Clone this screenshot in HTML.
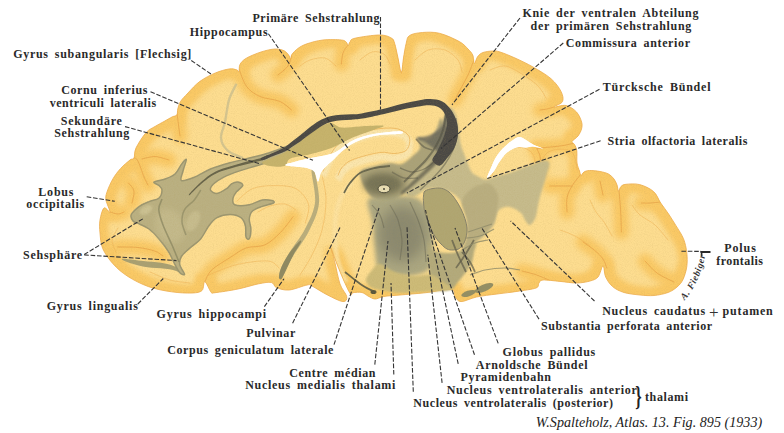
<!DOCTYPE html>
<html><head><meta charset="utf-8"><style>
html,body{margin:0;padding:0;background:#fff;}
body{width:784px;height:433px;overflow:hidden;font-family:"Liberation Serif",serif;}
svg{display:block;font-family:"Liberation Serif",serif;}
.lb{font-family:"Liberation Serif",serif;font-weight:bold;font-size:12px;fill:#2a2a2a;word-spacing:2.5px;}
</style></head><body>
<svg width="784" height="433" viewBox="0 0 784 433">
<defs>
<filter id="b0" filterUnits="userSpaceOnUse" x="0" y="0" width="784" height="433"><feGaussianBlur stdDeviation="0.5"/></filter>
<filter id="b1" filterUnits="userSpaceOnUse" x="0" y="0" width="784" height="433"><feGaussianBlur stdDeviation="0.9"/></filter>
<filter id="b2" filterUnits="userSpaceOnUse" x="0" y="0" width="784" height="433"><feGaussianBlur stdDeviation="3"/></filter>
<filter id="er" filterUnits="userSpaceOnUse" x="0" y="0" width="784" height="433"><feMorphology operator="erode" radius="7.5"/><feGaussianBlur stdDeviation="2.5"/></filter>
<filter id="b2s" filterUnits="userSpaceOnUse" x="0" y="0" width="784" height="433"><feGaussianBlur stdDeviation="2"/></filter>
<filter id="gr" filterUnits="userSpaceOnUse" x="0" y="0" width="784" height="433"><feTurbulence type="fractalNoise" baseFrequency="0.9" numOctaves="2" seed="7" result="n"/><feColorMatrix type="matrix" values="0 0 0 0 0.45  0 0 0 0 0.33  0 0 0 0 0.1  0.9 0.9 0 0 -0.78"/></filter>
<filter id="b3" filterUnits="userSpaceOnUse" x="0" y="0" width="784" height="433"><feGaussianBlur stdDeviation="6"/></filter>
</defs>
<clipPath id="bc"><path d="M100.0,233.0 C99.5,228.2 99.3,224.2 100.0,220.0 C100.7,215.8 102.3,209.3 104.0,208.0 C105.7,206.7 109.7,213.3 110.0,212.0 C110.3,210.7 106.5,203.3 106.0,200.0 C105.5,196.7 105.8,195.6 107.0,192.0 C108.2,188.4 110.7,182.6 113.0,178.7 C115.3,174.8 117.8,171.6 120.6,168.5 C123.4,165.4 127.8,161.8 130.0,160.0 C132.2,158.2 133.0,160.0 134.0,158.0 C135.0,156.0 134.0,152.2 136.0,148.0 C138.0,143.8 142.8,136.3 146.0,132.7 C149.2,129.1 152.0,128.4 155.0,126.5 C158.0,124.6 161.2,123.1 164.0,121.5 C166.8,119.9 169.9,118.1 172.0,117.0 C174.1,115.9 175.8,116.3 176.8,115.0 C177.8,113.7 177.2,111.2 177.8,109.0 C178.4,106.8 178.8,104.2 180.5,101.5 C182.2,98.8 184.8,96.4 188.0,93.0 C191.2,89.6 195.4,84.6 200.0,81.3 C204.6,78.0 210.5,75.0 215.3,73.0 C220.1,71.0 225.4,69.5 229.0,69.0 C232.6,68.5 235.1,69.4 236.8,69.9 C238.5,70.4 238.5,72.7 239.0,71.8 C239.5,70.9 238.8,66.7 240.0,64.5 C241.2,62.3 242.5,60.5 246.0,58.4 C249.5,56.3 256.2,53.6 261.0,52.0 C265.8,50.4 271.2,49.2 275.0,49.0 C278.8,48.8 281.7,49.7 284.0,50.7 C286.3,51.8 287.7,53.9 288.8,55.3 C289.9,56.7 290.2,59.1 290.7,59.0 C291.2,58.9 290.7,56.3 291.9,54.5 C293.1,52.7 295.5,50.2 298.0,48.4 C300.5,46.6 302.8,45.2 307.0,43.8 C311.2,42.4 317.3,40.6 323.0,40.0 C328.7,39.4 337.5,39.6 341.4,40.0 C345.3,40.4 345.4,41.5 346.5,42.5 C347.6,43.5 347.4,46.1 348.0,46.0 C348.6,45.9 348.9,43.3 350.0,42.0 C351.1,40.7 349.8,39.5 354.7,38.3 C359.6,37.1 373.5,35.0 379.6,35.0 C385.7,35.0 388.8,36.6 391.3,38.0 C393.8,39.4 393.5,40.0 394.6,43.3 C395.7,46.6 396.9,53.1 398.0,58.0 C399.1,62.9 400.4,72.5 401.3,72.5 C402.2,72.5 402.7,62.9 403.5,58.0 C404.3,53.1 405.2,47.0 406.2,43.3 C407.2,39.5 406.9,37.3 409.6,35.5 C412.3,33.7 417.4,32.9 422.4,32.5 C427.4,32.1 433.3,31.8 439.5,33.3 C445.7,34.8 454.6,39.0 459.4,41.6 C464.1,44.2 465.8,46.8 468.0,49.0 C470.2,51.2 471.6,52.6 472.7,55.0 C473.8,57.4 473.6,63.2 474.4,63.5 C475.2,63.8 476.3,58.4 477.7,56.6 C479.1,54.8 480.5,53.4 483.0,52.5 C485.5,51.6 489.9,51.1 492.7,51.0 C495.5,50.9 496.3,50.8 500.0,52.0 C503.7,53.2 509.5,55.5 515.0,58.0 C520.5,60.5 527.0,63.5 533.0,67.0 C539.0,70.5 546.3,74.6 551.0,78.7 C555.7,82.8 559.1,87.6 561.0,91.4 C562.9,95.2 563.7,99.0 562.5,101.6 C561.3,104.2 553.4,106.3 554.0,107.0 C554.6,107.7 562.2,104.7 566.0,105.5 C569.8,106.3 573.9,109.2 576.5,112.0 C579.1,114.8 580.8,119.2 581.6,122.0 C582.4,124.8 582.1,126.7 581.5,129.0 C580.9,131.3 579.6,133.9 578.0,136.0 C576.4,138.1 572.6,140.1 572.0,141.5 C571.4,142.9 573.7,142.9 574.5,144.5 C575.3,146.1 576.4,147.9 576.8,151.0 C577.2,154.1 576.5,159.7 577.0,163.0 C577.5,166.3 578.8,168.9 579.5,171.0 C580.2,173.1 580.2,175.3 581.0,175.5 C581.8,175.7 582.6,172.8 584.0,172.0 C585.4,171.2 586.8,170.6 589.5,170.5 C592.2,170.4 596.8,170.9 600.0,171.5 C603.2,172.1 606.2,172.8 608.5,174.0 C610.8,175.2 612.6,177.2 614.0,179.0 C615.4,180.8 616.2,183.0 617.0,185.0 C617.8,187.0 617.8,190.8 618.5,191.0 C619.2,191.2 619.8,187.6 621.0,186.5 C622.2,185.4 622.9,184.6 626.0,184.3 C629.1,184.0 635.1,183.4 639.7,184.6 C644.3,185.8 650.1,188.5 653.6,191.6 C657.1,194.7 658.2,199.3 660.7,203.0 C663.2,206.7 666.1,210.2 668.6,214.0 C671.1,217.8 673.5,221.6 676.0,225.7 C678.5,229.8 681.7,234.3 683.5,238.8 C685.3,243.3 686.2,248.1 686.8,252.7 C687.3,257.3 687.4,262.0 686.8,266.5 C686.2,271.0 684.6,276.1 683.0,279.5 C681.4,282.9 679.5,284.8 677.0,287.0 C674.5,289.2 671.8,291.1 668.0,292.5 C664.2,293.9 658.7,295.1 654.0,295.5 C649.3,295.9 645.0,295.5 640.0,295.0 C635.0,294.5 628.6,293.9 624.0,292.5 C619.4,291.1 615.5,289.1 612.5,286.5 C609.5,283.9 607.3,280.4 605.7,277.0 C604.1,273.6 604.3,266.0 603.0,266.0 C601.7,266.0 600.2,274.5 598.0,277.0 C595.8,279.5 593.5,280.0 590.0,281.0 C586.5,282.0 582.0,282.9 577.0,283.0 C572.0,283.1 565.7,281.9 560.0,281.4 C554.3,280.9 546.5,279.7 543.0,280.0 C539.5,280.3 540.2,281.7 539.0,283.0 C537.8,284.3 539.7,286.6 536.0,288.0 C532.3,289.4 523.5,290.4 517.0,291.4 C510.5,292.4 503.8,293.1 497.0,294.0 C490.2,294.9 482.5,295.7 476.5,297.0 C470.5,298.3 464.6,301.7 461.0,301.6 C457.4,301.5 456.7,298.5 455.0,296.5 C453.3,294.5 455.9,290.1 451.0,289.5 C446.1,288.9 434.0,291.8 425.5,292.7 C417.0,293.6 407.0,294.4 400.0,295.0 C393.0,295.6 387.9,295.8 383.7,296.5 C379.5,297.2 377.6,299.1 375.0,299.0 C372.4,298.9 370.2,297.1 368.0,296.0 C365.8,294.9 364.5,293.1 362.0,292.5 C359.5,291.9 354.9,292.4 353.0,292.7 C351.1,292.9 352.2,296.3 350.5,294.0 C348.8,291.7 346.0,285.5 343.0,278.7 C340.0,271.9 334.5,257.9 332.6,253.0 C330.7,248.1 331.0,247.3 331.4,249.0 C331.8,250.7 333.6,257.2 335.0,263.0 C336.4,268.8 338.1,278.4 340.0,284.0 C341.9,289.6 346.2,293.6 346.7,296.5 C347.2,299.4 346.2,301.9 343.0,301.6 C339.8,301.4 332.7,297.6 327.5,295.0 C322.3,292.4 315.4,287.7 312.0,286.0 C308.6,284.3 310.8,284.3 307.0,285.0 C303.2,285.7 294.1,289.6 289.0,290.0 C283.9,290.4 279.4,288.9 276.5,287.6 C273.6,286.4 274.4,283.1 271.4,282.5 C268.4,281.9 264.3,282.7 258.7,283.8 C253.1,284.9 245.3,287.5 238.0,289.0 C230.7,290.5 219.5,292.2 215.0,292.7 C210.5,293.2 212.7,293.9 211.0,292.0 C209.3,290.1 206.3,281.9 204.8,281.6 C203.3,281.4 204.1,288.6 202.0,290.5 C199.9,292.4 197.1,292.8 192.0,293.0 C186.9,293.2 178.8,292.9 171.6,291.8 C164.4,290.8 156.0,289.2 148.7,286.7 C141.4,284.1 133.9,280.3 128.0,276.5 C122.0,272.7 117.2,268.5 113.0,263.8 C108.8,259.1 104.9,253.6 102.7,248.5 C100.5,243.4 100.5,237.8 100.0,233.0Z"/></clipPath>
<path d="M100.0,233.0 C99.5,228.2 99.3,224.2 100.0,220.0 C100.7,215.8 102.3,209.3 104.0,208.0 C105.7,206.7 109.7,213.3 110.0,212.0 C110.3,210.7 106.5,203.3 106.0,200.0 C105.5,196.7 105.8,195.6 107.0,192.0 C108.2,188.4 110.7,182.6 113.0,178.7 C115.3,174.8 117.8,171.6 120.6,168.5 C123.4,165.4 127.8,161.8 130.0,160.0 C132.2,158.2 133.0,160.0 134.0,158.0 C135.0,156.0 134.0,152.2 136.0,148.0 C138.0,143.8 142.8,136.3 146.0,132.7 C149.2,129.1 152.0,128.4 155.0,126.5 C158.0,124.6 161.2,123.1 164.0,121.5 C166.8,119.9 169.9,118.1 172.0,117.0 C174.1,115.9 175.8,116.3 176.8,115.0 C177.8,113.7 177.2,111.2 177.8,109.0 C178.4,106.8 178.8,104.2 180.5,101.5 C182.2,98.8 184.8,96.4 188.0,93.0 C191.2,89.6 195.4,84.6 200.0,81.3 C204.6,78.0 210.5,75.0 215.3,73.0 C220.1,71.0 225.4,69.5 229.0,69.0 C232.6,68.5 235.1,69.4 236.8,69.9 C238.5,70.4 238.5,72.7 239.0,71.8 C239.5,70.9 238.8,66.7 240.0,64.5 C241.2,62.3 242.5,60.5 246.0,58.4 C249.5,56.3 256.2,53.6 261.0,52.0 C265.8,50.4 271.2,49.2 275.0,49.0 C278.8,48.8 281.7,49.7 284.0,50.7 C286.3,51.8 287.7,53.9 288.8,55.3 C289.9,56.7 290.2,59.1 290.7,59.0 C291.2,58.9 290.7,56.3 291.9,54.5 C293.1,52.7 295.5,50.2 298.0,48.4 C300.5,46.6 302.8,45.2 307.0,43.8 C311.2,42.4 317.3,40.6 323.0,40.0 C328.7,39.4 337.5,39.6 341.4,40.0 C345.3,40.4 345.4,41.5 346.5,42.5 C347.6,43.5 347.4,46.1 348.0,46.0 C348.6,45.9 348.9,43.3 350.0,42.0 C351.1,40.7 349.8,39.5 354.7,38.3 C359.6,37.1 373.5,35.0 379.6,35.0 C385.7,35.0 388.8,36.6 391.3,38.0 C393.8,39.4 393.5,40.0 394.6,43.3 C395.7,46.6 396.9,53.1 398.0,58.0 C399.1,62.9 400.4,72.5 401.3,72.5 C402.2,72.5 402.7,62.9 403.5,58.0 C404.3,53.1 405.2,47.0 406.2,43.3 C407.2,39.5 406.9,37.3 409.6,35.5 C412.3,33.7 417.4,32.9 422.4,32.5 C427.4,32.1 433.3,31.8 439.5,33.3 C445.7,34.8 454.6,39.0 459.4,41.6 C464.1,44.2 465.8,46.8 468.0,49.0 C470.2,51.2 471.6,52.6 472.7,55.0 C473.8,57.4 473.6,63.2 474.4,63.5 C475.2,63.8 476.3,58.4 477.7,56.6 C479.1,54.8 480.5,53.4 483.0,52.5 C485.5,51.6 489.9,51.1 492.7,51.0 C495.5,50.9 496.3,50.8 500.0,52.0 C503.7,53.2 509.5,55.5 515.0,58.0 C520.5,60.5 527.0,63.5 533.0,67.0 C539.0,70.5 546.3,74.6 551.0,78.7 C555.7,82.8 559.1,87.6 561.0,91.4 C562.9,95.2 563.7,99.0 562.5,101.6 C561.3,104.2 553.4,106.3 554.0,107.0 C554.6,107.7 562.2,104.7 566.0,105.5 C569.8,106.3 573.9,109.2 576.5,112.0 C579.1,114.8 580.8,119.2 581.6,122.0 C582.4,124.8 582.1,126.7 581.5,129.0 C580.9,131.3 579.6,133.9 578.0,136.0 C576.4,138.1 572.6,140.1 572.0,141.5 C571.4,142.9 573.7,142.9 574.5,144.5 C575.3,146.1 576.4,147.9 576.8,151.0 C577.2,154.1 576.5,159.7 577.0,163.0 C577.5,166.3 578.8,168.9 579.5,171.0 C580.2,173.1 580.2,175.3 581.0,175.5 C581.8,175.7 582.6,172.8 584.0,172.0 C585.4,171.2 586.8,170.6 589.5,170.5 C592.2,170.4 596.8,170.9 600.0,171.5 C603.2,172.1 606.2,172.8 608.5,174.0 C610.8,175.2 612.6,177.2 614.0,179.0 C615.4,180.8 616.2,183.0 617.0,185.0 C617.8,187.0 617.8,190.8 618.5,191.0 C619.2,191.2 619.8,187.6 621.0,186.5 C622.2,185.4 622.9,184.6 626.0,184.3 C629.1,184.0 635.1,183.4 639.7,184.6 C644.3,185.8 650.1,188.5 653.6,191.6 C657.1,194.7 658.2,199.3 660.7,203.0 C663.2,206.7 666.1,210.2 668.6,214.0 C671.1,217.8 673.5,221.6 676.0,225.7 C678.5,229.8 681.7,234.3 683.5,238.8 C685.3,243.3 686.2,248.1 686.8,252.7 C687.3,257.3 687.4,262.0 686.8,266.5 C686.2,271.0 684.6,276.1 683.0,279.5 C681.4,282.9 679.5,284.8 677.0,287.0 C674.5,289.2 671.8,291.1 668.0,292.5 C664.2,293.9 658.7,295.1 654.0,295.5 C649.3,295.9 645.0,295.5 640.0,295.0 C635.0,294.5 628.6,293.9 624.0,292.5 C619.4,291.1 615.5,289.1 612.5,286.5 C609.5,283.9 607.3,280.4 605.7,277.0 C604.1,273.6 604.3,266.0 603.0,266.0 C601.7,266.0 600.2,274.5 598.0,277.0 C595.8,279.5 593.5,280.0 590.0,281.0 C586.5,282.0 582.0,282.9 577.0,283.0 C572.0,283.1 565.7,281.9 560.0,281.4 C554.3,280.9 546.5,279.7 543.0,280.0 C539.5,280.3 540.2,281.7 539.0,283.0 C537.8,284.3 539.7,286.6 536.0,288.0 C532.3,289.4 523.5,290.4 517.0,291.4 C510.5,292.4 503.8,293.1 497.0,294.0 C490.2,294.9 482.5,295.7 476.5,297.0 C470.5,298.3 464.6,301.7 461.0,301.6 C457.4,301.5 456.7,298.5 455.0,296.5 C453.3,294.5 455.9,290.1 451.0,289.5 C446.1,288.9 434.0,291.8 425.5,292.7 C417.0,293.6 407.0,294.4 400.0,295.0 C393.0,295.6 387.9,295.8 383.7,296.5 C379.5,297.2 377.6,299.1 375.0,299.0 C372.4,298.9 370.2,297.1 368.0,296.0 C365.8,294.9 364.5,293.1 362.0,292.5 C359.5,291.9 354.9,292.4 353.0,292.7 C351.1,292.9 352.2,296.3 350.5,294.0 C348.8,291.7 346.0,285.5 343.0,278.7 C340.0,271.9 334.5,257.9 332.6,253.0 C330.7,248.1 331.0,247.3 331.4,249.0 C331.8,250.7 333.6,257.2 335.0,263.0 C336.4,268.8 338.1,278.4 340.0,284.0 C341.9,289.6 346.2,293.6 346.7,296.5 C347.2,299.4 346.2,301.9 343.0,301.6 C339.8,301.4 332.7,297.6 327.5,295.0 C322.3,292.4 315.4,287.7 312.0,286.0 C308.6,284.3 310.8,284.3 307.0,285.0 C303.2,285.7 294.1,289.6 289.0,290.0 C283.9,290.4 279.4,288.9 276.5,287.6 C273.6,286.4 274.4,283.1 271.4,282.5 C268.4,281.9 264.3,282.7 258.7,283.8 C253.1,284.9 245.3,287.5 238.0,289.0 C230.7,290.5 219.5,292.2 215.0,292.7 C210.5,293.2 212.7,293.9 211.0,292.0 C209.3,290.1 206.3,281.9 204.8,281.6 C203.3,281.4 204.1,288.6 202.0,290.5 C199.9,292.4 197.1,292.8 192.0,293.0 C186.9,293.2 178.8,292.9 171.6,291.8 C164.4,290.8 156.0,289.2 148.7,286.7 C141.4,284.1 133.9,280.3 128.0,276.5 C122.0,272.7 117.2,268.5 113.0,263.8 C108.8,259.1 104.9,253.6 102.7,248.5 C100.5,243.4 100.5,237.8 100.0,233.0Z" fill="#fac965"/>
<g clip-path="url(#bc)">
<path d="M100.0,233.0 C99.5,228.2 99.3,224.2 100.0,220.0 C100.7,215.8 102.3,209.3 104.0,208.0 C105.7,206.7 109.7,213.3 110.0,212.0 C110.3,210.7 106.5,203.3 106.0,200.0 C105.5,196.7 105.8,195.6 107.0,192.0 C108.2,188.4 110.7,182.6 113.0,178.7 C115.3,174.8 117.8,171.6 120.6,168.5 C123.4,165.4 127.8,161.8 130.0,160.0 C132.2,158.2 133.0,160.0 134.0,158.0 C135.0,156.0 134.0,152.2 136.0,148.0 C138.0,143.8 142.8,136.3 146.0,132.7 C149.2,129.1 152.0,128.4 155.0,126.5 C158.0,124.6 161.2,123.1 164.0,121.5 C166.8,119.9 169.9,118.1 172.0,117.0 C174.1,115.9 175.8,116.3 176.8,115.0 C177.8,113.7 177.2,111.2 177.8,109.0 C178.4,106.8 178.8,104.2 180.5,101.5 C182.2,98.8 184.8,96.4 188.0,93.0 C191.2,89.6 195.4,84.6 200.0,81.3 C204.6,78.0 210.5,75.0 215.3,73.0 C220.1,71.0 225.4,69.5 229.0,69.0 C232.6,68.5 235.1,69.4 236.8,69.9 C238.5,70.4 238.5,72.7 239.0,71.8 C239.5,70.9 238.8,66.7 240.0,64.5 C241.2,62.3 242.5,60.5 246.0,58.4 C249.5,56.3 256.2,53.6 261.0,52.0 C265.8,50.4 271.2,49.2 275.0,49.0 C278.8,48.8 281.7,49.7 284.0,50.7 C286.3,51.8 287.7,53.9 288.8,55.3 C289.9,56.7 290.2,59.1 290.7,59.0 C291.2,58.9 290.7,56.3 291.9,54.5 C293.1,52.7 295.5,50.2 298.0,48.4 C300.5,46.6 302.8,45.2 307.0,43.8 C311.2,42.4 317.3,40.6 323.0,40.0 C328.7,39.4 337.5,39.6 341.4,40.0 C345.3,40.4 345.4,41.5 346.5,42.5 C347.6,43.5 347.4,46.1 348.0,46.0 C348.6,45.9 348.9,43.3 350.0,42.0 C351.1,40.7 349.8,39.5 354.7,38.3 C359.6,37.1 373.5,35.0 379.6,35.0 C385.7,35.0 388.8,36.6 391.3,38.0 C393.8,39.4 393.5,40.0 394.6,43.3 C395.7,46.6 396.9,53.1 398.0,58.0 C399.1,62.9 400.4,72.5 401.3,72.5 C402.2,72.5 402.7,62.9 403.5,58.0 C404.3,53.1 405.2,47.0 406.2,43.3 C407.2,39.5 406.9,37.3 409.6,35.5 C412.3,33.7 417.4,32.9 422.4,32.5 C427.4,32.1 433.3,31.8 439.5,33.3 C445.7,34.8 454.6,39.0 459.4,41.6 C464.1,44.2 465.8,46.8 468.0,49.0 C470.2,51.2 471.6,52.6 472.7,55.0 C473.8,57.4 473.6,63.2 474.4,63.5 C475.2,63.8 476.3,58.4 477.7,56.6 C479.1,54.8 480.5,53.4 483.0,52.5 C485.5,51.6 489.9,51.1 492.7,51.0 C495.5,50.9 496.3,50.8 500.0,52.0 C503.7,53.2 509.5,55.5 515.0,58.0 C520.5,60.5 527.0,63.5 533.0,67.0 C539.0,70.5 546.3,74.6 551.0,78.7 C555.7,82.8 559.1,87.6 561.0,91.4 C562.9,95.2 563.7,99.0 562.5,101.6 C561.3,104.2 553.4,106.3 554.0,107.0 C554.6,107.7 562.2,104.7 566.0,105.5 C569.8,106.3 573.9,109.2 576.5,112.0 C579.1,114.8 580.8,119.2 581.6,122.0 C582.4,124.8 582.1,126.7 581.5,129.0 C580.9,131.3 579.6,133.9 578.0,136.0 C576.4,138.1 572.6,140.1 572.0,141.5 C571.4,142.9 573.7,142.9 574.5,144.5 C575.3,146.1 576.4,147.9 576.8,151.0 C577.2,154.1 576.5,159.7 577.0,163.0 C577.5,166.3 578.8,168.9 579.5,171.0 C580.2,173.1 580.2,175.3 581.0,175.5 C581.8,175.7 582.6,172.8 584.0,172.0 C585.4,171.2 586.8,170.6 589.5,170.5 C592.2,170.4 596.8,170.9 600.0,171.5 C603.2,172.1 606.2,172.8 608.5,174.0 C610.8,175.2 612.6,177.2 614.0,179.0 C615.4,180.8 616.2,183.0 617.0,185.0 C617.8,187.0 617.8,190.8 618.5,191.0 C619.2,191.2 619.8,187.6 621.0,186.5 C622.2,185.4 622.9,184.6 626.0,184.3 C629.1,184.0 635.1,183.4 639.7,184.6 C644.3,185.8 650.1,188.5 653.6,191.6 C657.1,194.7 658.2,199.3 660.7,203.0 C663.2,206.7 666.1,210.2 668.6,214.0 C671.1,217.8 673.5,221.6 676.0,225.7 C678.5,229.8 681.7,234.3 683.5,238.8 C685.3,243.3 686.2,248.1 686.8,252.7 C687.3,257.3 687.4,262.0 686.8,266.5 C686.2,271.0 684.6,276.1 683.0,279.5 C681.4,282.9 679.5,284.8 677.0,287.0 C674.5,289.2 671.8,291.1 668.0,292.5 C664.2,293.9 658.7,295.1 654.0,295.5 C649.3,295.9 645.0,295.5 640.0,295.0 C635.0,294.5 628.6,293.9 624.0,292.5 C619.4,291.1 615.5,289.1 612.5,286.5 C609.5,283.9 607.3,280.4 605.7,277.0 C604.1,273.6 604.3,266.0 603.0,266.0 C601.7,266.0 600.2,274.5 598.0,277.0 C595.8,279.5 593.5,280.0 590.0,281.0 C586.5,282.0 582.0,282.9 577.0,283.0 C572.0,283.1 565.7,281.9 560.0,281.4 C554.3,280.9 546.5,279.7 543.0,280.0 C539.5,280.3 540.2,281.7 539.0,283.0 C537.8,284.3 539.7,286.6 536.0,288.0 C532.3,289.4 523.5,290.4 517.0,291.4 C510.5,292.4 503.8,293.1 497.0,294.0 C490.2,294.9 482.5,295.7 476.5,297.0 C470.5,298.3 464.6,301.7 461.0,301.6 C457.4,301.5 456.7,298.5 455.0,296.5 C453.3,294.5 455.9,290.1 451.0,289.5 C446.1,288.9 434.0,291.8 425.5,292.7 C417.0,293.6 407.0,294.4 400.0,295.0 C393.0,295.6 387.9,295.8 383.7,296.5 C379.5,297.2 377.6,299.1 375.0,299.0 C372.4,298.9 370.2,297.1 368.0,296.0 C365.8,294.9 364.5,293.1 362.0,292.5 C359.5,291.9 354.9,292.4 353.0,292.7 C351.1,292.9 352.2,296.3 350.5,294.0 C348.8,291.7 346.0,285.5 343.0,278.7 C340.0,271.9 334.5,257.9 332.6,253.0 C330.7,248.1 331.0,247.3 331.4,249.0 C331.8,250.7 333.6,257.2 335.0,263.0 C336.4,268.8 338.1,278.4 340.0,284.0 C341.9,289.6 346.2,293.6 346.7,296.5 C347.2,299.4 346.2,301.9 343.0,301.6 C339.8,301.4 332.7,297.6 327.5,295.0 C322.3,292.4 315.4,287.7 312.0,286.0 C308.6,284.3 310.8,284.3 307.0,285.0 C303.2,285.7 294.1,289.6 289.0,290.0 C283.9,290.4 279.4,288.9 276.5,287.6 C273.6,286.4 274.4,283.1 271.4,282.5 C268.4,281.9 264.3,282.7 258.7,283.8 C253.1,284.9 245.3,287.5 238.0,289.0 C230.7,290.5 219.5,292.2 215.0,292.7 C210.5,293.2 212.7,293.9 211.0,292.0 C209.3,290.1 206.3,281.9 204.8,281.6 C203.3,281.4 204.1,288.6 202.0,290.5 C199.9,292.4 197.1,292.8 192.0,293.0 C186.9,293.2 178.8,292.9 171.6,291.8 C164.4,290.8 156.0,289.2 148.7,286.7 C141.4,284.1 133.9,280.3 128.0,276.5 C122.0,272.7 117.2,268.5 113.0,263.8 C108.8,259.1 104.9,253.6 102.7,248.5 C100.5,243.4 100.5,237.8 100.0,233.0Z" fill="#fddd90" filter="url(#er)"/>
<path d="M177.0,113.0 C177.2,115.0 178.0,121.2 178.5,125.0 C179.0,128.8 179.8,134.2 180.0,136.0" fill="none" stroke="#fac965" stroke-width="15" stroke-linecap="round" filter="url(#b2)"/>
<path d="M239.0,69.0 C240.3,71.9 243.1,81.9 246.6,86.5 C250.1,91.1 254.4,94.0 260.0,96.5 C265.6,99.0 274.8,99.2 280.0,101.5 C285.2,103.8 289.6,108.6 291.5,110.0" fill="none" stroke="#fac965" stroke-width="15" stroke-linecap="round" filter="url(#b2)"/>
<path d="M291.5,56.0 C290.9,57.7 290.2,62.8 288.0,66.0 C285.8,69.2 279.7,73.5 278.0,75.0" fill="none" stroke="#fac965" stroke-width="15" stroke-linecap="round" filter="url(#b2)"/>
<path d="M348.0,45.0 C347.2,46.3 344.1,49.8 343.0,53.0 C341.9,56.2 341.7,62.2 341.4,64.0" fill="none" stroke="#fac965" stroke-width="15" stroke-linecap="round" filter="url(#b2)"/>
<path d="M398.0,40.0 C398.3,43.0 399.4,52.5 400.0,58.0 C400.6,63.5 401.2,70.5 401.5,73.0" fill="none" stroke="#fac965" stroke-width="15" stroke-linecap="round" filter="url(#b2)"/>
<path d="M474.0,60.0 C473.0,62.5 470.3,70.0 468.0,75.0 C465.7,80.0 462.2,85.8 460.0,90.0 C457.8,94.2 455.8,98.3 455.0,100.0" fill="none" stroke="#fac965" stroke-width="15" stroke-linecap="round" filter="url(#b2)"/>
<path d="M554.0,107.0 C552.8,107.3 549.3,108.5 547.0,109.0 C544.7,109.5 541.2,109.8 540.0,110.0" fill="none" stroke="#fac965" stroke-width="15" stroke-linecap="round" filter="url(#b2)"/>
<path d="M619.0,190.0 C619.3,193.7 620.3,205.0 620.7,212.0 C621.1,219.0 621.3,228.7 621.4,232.0" fill="none" stroke="#fac965" stroke-width="15" stroke-linecap="round" filter="url(#b2)"/>
<path d="M581.0,174.0 C579.5,176.0 574.3,182.0 572.0,186.0 C569.7,190.0 567.8,193.7 567.0,198.0 C566.2,202.3 567.0,209.7 567.0,212.0" fill="none" stroke="#fac965" stroke-width="15" stroke-linecap="round" filter="url(#b2)"/>
<path d="M572.0,186.0 C570.0,186.0 563.7,186.0 560.0,186.0 C556.3,186.0 551.4,186.0 549.7,186.0" fill="none" stroke="#fac965" stroke-width="15" stroke-linecap="round" filter="url(#b2)"/>
<path d="M600.0,181.0 L603.0,195.0" fill="none" stroke="#fac965" stroke-width="15" stroke-linecap="round" filter="url(#b2)"/>
<path d="M660.5,202.0 C658.8,202.2 653.2,202.8 650.0,203.0 C646.8,203.2 642.9,203.0 641.5,203.0" fill="none" stroke="#fac965" stroke-width="15" stroke-linecap="round" filter="url(#b2)"/>
<path d="M583.0,242.0 C585.0,243.4 591.4,247.6 594.7,250.4 C598.0,253.2 601.0,256.1 603.0,259.0 C605.0,261.9 606.2,266.5 606.8,268.0" fill="none" stroke="#fac965" stroke-width="15" stroke-linecap="round" filter="url(#b2)"/>
<path d="M645.0,261.0 C647.0,263.0 652.2,269.5 657.0,273.0 C661.8,276.5 671.2,280.5 674.0,282.0" fill="none" stroke="#fac965" stroke-width="15" stroke-linecap="round" filter="url(#b2)"/>
<path d="M522.0,271.0 C524.3,271.6 531.3,273.2 535.8,274.7 C540.3,276.2 546.8,279.1 549.0,280.0" fill="none" stroke="#fac965" stroke-width="15" stroke-linecap="round" filter="url(#b2)"/>
<path d="M132.0,158.0 C132.9,158.3 135.4,156.8 137.4,160.0 C139.4,163.2 142.2,172.8 144.0,177.0 C145.8,181.2 147.3,183.7 148.0,185.0" fill="none" stroke="#fac965" stroke-width="15" stroke-linecap="round" filter="url(#b2)"/>
<path d="M128.4,183.0 C129.3,184.3 133.4,187.7 134.0,191.0 C134.6,194.3 132.3,201.0 132.0,203.0" fill="none" stroke="#fac965" stroke-width="15" stroke-linecap="round" filter="url(#b2)"/>
<path d="M110.0,212.0 C111.3,212.3 115.7,214.0 118.0,214.0 C120.3,214.0 123.0,212.3 124.0,212.0" fill="none" stroke="#fac965" stroke-width="15" stroke-linecap="round" filter="url(#b2)"/>
<path d="M117.7,247.0 C121.1,247.1 131.8,246.8 138.0,247.5 C144.2,248.2 150.4,249.6 154.6,251.0 C158.8,252.4 161.6,255.2 163.0,256.0" fill="none" stroke="#fac965" stroke-width="15" stroke-linecap="round" filter="url(#b2)"/>
<path d="M142.0,159.0 C144.2,158.6 150.5,156.3 155.0,156.5 C159.5,156.7 166.7,159.4 169.0,160.0" fill="none" stroke="#fac965" stroke-width="15" stroke-linecap="round" filter="url(#b2)"/>
<path d="M577.0,142.5 C575.2,142.9 569.5,144.3 566.0,145.0 C562.5,145.7 559.5,146.1 556.0,146.5 C552.5,146.9 548.2,147.2 545.0,147.5 C541.8,147.8 538.3,148.3 537.0,148.5" fill="none" stroke="#fac965" stroke-width="15" stroke-linecap="round" filter="url(#b2)"/>
<path d="M204.8,281.6 C206.0,279.6 207.5,273.9 211.8,269.8 C216.1,265.8 224.8,260.9 230.5,257.3 C236.2,253.7 240.3,250.1 246.0,248.0 C251.7,245.9 259.1,247.5 264.9,244.9 C270.6,242.3 275.8,237.1 280.5,232.4 C285.2,227.7 290.9,219.4 293.0,216.8" fill="none" stroke="#fac965" stroke-width="15" stroke-linecap="round" filter="url(#b2)"/>
<path d="M537.0,149.0 C537.5,150.2 539.4,153.3 540.0,156.0 C540.6,158.7 540.7,161.8 540.5,165.0 C540.3,168.2 539.2,173.3 539.0,175.0" fill="none" stroke="#fac965" stroke-width="15" stroke-linecap="round" filter="url(#b2)"/>
<path d="M177.0,113.0 C177.2,115.0 178.0,121.2 178.5,125.0 C179.0,128.8 179.8,134.2 180.0,136.0" fill="none" stroke="#eaa94c" stroke-width="1" stroke-linecap="round" opacity="0.9"/>
<path d="M239.0,69.0 C240.3,71.9 243.1,81.9 246.6,86.5 C250.1,91.1 254.4,94.0 260.0,96.5 C265.6,99.0 274.8,99.2 280.0,101.5 C285.2,103.8 289.6,108.6 291.5,110.0" fill="none" stroke="#eaa94c" stroke-width="1" stroke-linecap="round" opacity="0.9"/>
<path d="M291.5,56.0 C290.9,57.7 290.2,62.8 288.0,66.0 C285.8,69.2 279.7,73.5 278.0,75.0" fill="none" stroke="#eaa94c" stroke-width="1" stroke-linecap="round" opacity="0.9"/>
<path d="M348.0,45.0 C347.2,46.3 344.1,49.8 343.0,53.0 C341.9,56.2 341.7,62.2 341.4,64.0" fill="none" stroke="#eaa94c" stroke-width="1" stroke-linecap="round" opacity="0.9"/>
<path d="M398.0,40.0 C398.3,43.0 399.4,52.5 400.0,58.0 C400.6,63.5 401.2,70.5 401.5,73.0" fill="none" stroke="#eaa94c" stroke-width="1" stroke-linecap="round" opacity="0.9"/>
<path d="M474.0,60.0 C473.0,62.5 470.3,70.0 468.0,75.0 C465.7,80.0 462.2,85.8 460.0,90.0 C457.8,94.2 455.8,98.3 455.0,100.0" fill="none" stroke="#eaa94c" stroke-width="1" stroke-linecap="round" opacity="0.9"/>
<path d="M554.0,107.0 C552.8,107.3 549.3,108.5 547.0,109.0 C544.7,109.5 541.2,109.8 540.0,110.0" fill="none" stroke="#eaa94c" stroke-width="1" stroke-linecap="round" opacity="0.9"/>
<path d="M619.0,190.0 C619.3,193.7 620.3,205.0 620.7,212.0 C621.1,219.0 621.3,228.7 621.4,232.0" fill="none" stroke="#eaa94c" stroke-width="1" stroke-linecap="round" opacity="0.9"/>
<path d="M581.0,174.0 C579.5,176.0 574.3,182.0 572.0,186.0 C569.7,190.0 567.8,193.7 567.0,198.0 C566.2,202.3 567.0,209.7 567.0,212.0" fill="none" stroke="#eaa94c" stroke-width="1" stroke-linecap="round" opacity="0.9"/>
<path d="M572.0,186.0 C570.0,186.0 563.7,186.0 560.0,186.0 C556.3,186.0 551.4,186.0 549.7,186.0" fill="none" stroke="#eaa94c" stroke-width="1" stroke-linecap="round" opacity="0.9"/>
<path d="M600.0,181.0 L603.0,195.0" fill="none" stroke="#eaa94c" stroke-width="1" stroke-linecap="round" opacity="0.9"/>
<path d="M660.5,202.0 C658.8,202.2 653.2,202.8 650.0,203.0 C646.8,203.2 642.9,203.0 641.5,203.0" fill="none" stroke="#eaa94c" stroke-width="1" stroke-linecap="round" opacity="0.9"/>
<path d="M583.0,242.0 C585.0,243.4 591.4,247.6 594.7,250.4 C598.0,253.2 601.0,256.1 603.0,259.0 C605.0,261.9 606.2,266.5 606.8,268.0" fill="none" stroke="#eaa94c" stroke-width="1" stroke-linecap="round" opacity="0.9"/>
<path d="M645.0,261.0 C647.0,263.0 652.2,269.5 657.0,273.0 C661.8,276.5 671.2,280.5 674.0,282.0" fill="none" stroke="#eaa94c" stroke-width="1" stroke-linecap="round" opacity="0.9"/>
<path d="M522.0,271.0 C524.3,271.6 531.3,273.2 535.8,274.7 C540.3,276.2 546.8,279.1 549.0,280.0" fill="none" stroke="#eaa94c" stroke-width="1" stroke-linecap="round" opacity="0.9"/>
<path d="M132.0,158.0 C132.9,158.3 135.4,156.8 137.4,160.0 C139.4,163.2 142.2,172.8 144.0,177.0 C145.8,181.2 147.3,183.7 148.0,185.0" fill="none" stroke="#eaa94c" stroke-width="1" stroke-linecap="round" opacity="0.9"/>
<path d="M128.4,183.0 C129.3,184.3 133.4,187.7 134.0,191.0 C134.6,194.3 132.3,201.0 132.0,203.0" fill="none" stroke="#eaa94c" stroke-width="1" stroke-linecap="round" opacity="0.9"/>
<path d="M110.0,212.0 C111.3,212.3 115.7,214.0 118.0,214.0 C120.3,214.0 123.0,212.3 124.0,212.0" fill="none" stroke="#eaa94c" stroke-width="1" stroke-linecap="round" opacity="0.9"/>
<path d="M117.7,247.0 C121.1,247.1 131.8,246.8 138.0,247.5 C144.2,248.2 150.4,249.6 154.6,251.0 C158.8,252.4 161.6,255.2 163.0,256.0" fill="none" stroke="#eaa94c" stroke-width="1" stroke-linecap="round" opacity="0.9"/>
<path d="M142.0,159.0 C144.2,158.6 150.5,156.3 155.0,156.5 C159.5,156.7 166.7,159.4 169.0,160.0" fill="none" stroke="#eaa94c" stroke-width="1" stroke-linecap="round" opacity="0.9"/>
<path d="M577.0,142.5 C575.2,142.9 569.5,144.3 566.0,145.0 C562.5,145.7 559.5,146.1 556.0,146.5 C552.5,146.9 548.2,147.2 545.0,147.5 C541.8,147.8 538.3,148.3 537.0,148.5" fill="none" stroke="#eaa94c" stroke-width="1" stroke-linecap="round" opacity="0.9"/>
<path d="M204.8,281.6 C206.0,279.6 207.5,273.9 211.8,269.8 C216.1,265.8 224.8,260.9 230.5,257.3 C236.2,253.7 240.3,250.1 246.0,248.0 C251.7,245.9 259.1,247.5 264.9,244.9 C270.6,242.3 275.8,237.1 280.5,232.4 C285.2,227.7 290.9,219.4 293.0,216.8" fill="none" stroke="#eaa94c" stroke-width="1" stroke-linecap="round" opacity="0.9"/>
<path d="M537.0,149.0 C537.5,150.2 539.4,153.3 540.0,156.0 C540.6,158.7 540.7,161.8 540.5,165.0 C540.3,168.2 539.2,173.3 539.0,175.0" fill="none" stroke="#eaa94c" stroke-width="1" stroke-linecap="round" opacity="0.9"/>
<path d="M208.7,275.0 C213.4,273.3 226.9,266.9 236.8,264.6 C246.7,262.3 261.0,260.4 268.0,261.0 C275.0,261.6 277.2,266.8 279.0,268.0" fill="none" stroke="#eeb052" stroke-width="0.9" stroke-linecap="round" opacity="0.55"/>
<path d="M236.8,201.2 C239.4,199.1 246.2,191.3 252.4,188.7 C258.6,186.1 266.9,185.6 274.2,185.6 C281.5,185.6 290.3,185.6 296.0,188.7 C301.7,191.8 306.9,198.6 308.5,204.3 C310.1,210.0 305.9,219.9 305.4,223.0" fill="none" stroke="#eeb052" stroke-width="0.9" stroke-linecap="round" opacity="0.55"/>
<path d="M258.0,212.0 C260.0,211.0 265.5,207.3 270.0,206.0 C274.5,204.7 280.7,203.3 285.0,204.0 C289.3,204.7 294.2,209.0 296.0,210.0" fill="none" stroke="#eeb052" stroke-width="0.9" stroke-linecap="round" opacity="0.55"/>
<path d="M322.0,175.0 C322.7,179.2 326.0,190.8 326.0,200.0 C326.0,209.2 324.3,220.8 322.0,230.0 C319.7,239.2 315.7,247.5 312.0,255.0 C308.3,262.5 302.0,271.7 300.0,275.0" fill="none" stroke="#eeb052" stroke-width="0.9" stroke-linecap="round" opacity="0.55"/>
<path d="M300.0,66.0 C301.7,65.0 305.8,61.3 310.0,60.0 C314.2,58.7 320.7,57.0 325.0,58.0 C329.3,59.0 334.2,64.7 336.0,66.0" fill="none" stroke="#eeb052" stroke-width="0.9" stroke-linecap="round" opacity="0.55"/>
<path d="M360.0,60.0 C362.0,58.7 368.0,53.0 372.0,52.0 C376.0,51.0 381.0,52.0 384.0,54.0 C387.0,56.0 389.0,62.3 390.0,64.0" fill="none" stroke="#eeb052" stroke-width="0.9" stroke-linecap="round" opacity="0.55"/>
<path d="M415.0,60.0 C417.2,58.3 423.0,51.7 428.0,50.0 C433.0,48.3 440.0,48.3 445.0,50.0 C450.0,51.7 455.2,56.3 458.0,60.0 C460.8,63.7 461.3,70.0 462.0,72.0" fill="none" stroke="#eeb052" stroke-width="0.9" stroke-linecap="round" opacity="0.55"/>
<path d="M490.0,70.0 C492.5,69.3 499.7,65.3 505.0,66.0 C510.3,66.7 516.5,70.7 522.0,74.0 C527.5,77.3 534.0,82.0 538.0,86.0 C542.0,90.0 544.7,96.0 546.0,98.0" fill="none" stroke="#eeb052" stroke-width="0.9" stroke-linecap="round" opacity="0.55"/>
<path d="M590.0,200.0 C591.0,202.0 593.7,208.3 596.0,212.0 C598.3,215.7 601.3,218.0 604.0,222.0 C606.7,226.0 610.7,233.7 612.0,236.0" fill="none" stroke="#eeb052" stroke-width="0.9" stroke-linecap="round" opacity="0.55"/>
<path d="M632.0,205.0 C633.3,206.7 636.2,211.7 640.0,215.0 C643.8,218.3 650.3,220.8 655.0,225.0 C659.7,229.2 665.8,237.5 668.0,240.0" fill="none" stroke="#eeb052" stroke-width="0.9" stroke-linecap="round" opacity="0.55"/>
<path d="M560.0,230.0 C562.5,231.0 570.0,233.3 575.0,236.0 C580.0,238.7 587.5,244.3 590.0,246.0" fill="none" stroke="#eeb052" stroke-width="0.9" stroke-linecap="round" opacity="0.55"/>
<path d="M118.0,228.0 C117.0,230.0 112.3,236.0 112.0,240.0 C111.7,244.0 115.3,250.0 116.0,252.0" fill="none" stroke="#eeb052" stroke-width="0.9" stroke-linecap="round" opacity="0.55"/>
<path d="M150.0,272.0 C153.3,273.3 163.3,278.2 170.0,280.0 C176.7,281.8 186.7,282.5 190.0,283.0" fill="none" stroke="#eeb052" stroke-width="0.9" stroke-linecap="round" opacity="0.55"/>
<path d="M492.0,176.0 C492.6,174.2 493.6,168.7 495.5,165.0 C497.4,161.3 501.0,156.8 503.7,154.0 C506.4,151.2 508.8,149.6 511.8,148.5 C514.9,147.4 519.0,147.1 522.0,147.5 C525.0,147.9 528.0,149.4 530.0,151.0 C532.0,152.6 533.1,154.7 534.0,157.0 C534.9,159.3 535.5,162.3 535.5,165.0 C535.5,167.7 534.2,171.7 534.0,173.0" fill="none" stroke="#eeb052" stroke-width="0.9" stroke-linecap="round" opacity="0.55"/>
<path d="M541.0,178.0 C541.1,175.5 540.5,167.1 541.4,163.0 C542.3,158.9 543.9,155.8 546.4,153.5 C548.9,151.2 552.5,150.0 556.4,149.5 C560.3,149.0 566.6,149.1 569.7,150.5 C572.8,151.9 573.8,154.8 575.0,158.0 C576.2,161.2 576.7,168.0 577.0,170.0" fill="none" stroke="#eeb052" stroke-width="0.9" stroke-linecap="round" opacity="0.55"/>
<path d="M323.0,176.0 C324.2,173.3 327.2,164.8 330.0,160.0 C332.8,155.2 335.5,150.5 340.0,147.0 C344.5,143.5 351.5,141.2 357.0,139.0 C362.5,136.8 366.5,135.0 373.0,134.0 C379.5,133.0 390.0,131.8 396.0,133.0 C402.0,134.2 407.2,137.5 409.0,141.0 C410.8,144.5 409.3,151.2 407.0,154.0 C404.7,156.8 399.6,157.5 395.0,158.0 C390.4,158.5 386.6,156.0 379.6,157.0 C372.6,158.0 359.3,161.5 353.0,164.0 C346.7,166.5 344.5,169.3 342.0,172.0 C339.5,174.7 338.7,178.7 338.0,180.0" fill="none" stroke="#fbe6ad" stroke-width="7" filter="url(#b1)"/>
<path d="M323.0,176.0 C324.2,173.3 327.2,164.8 330.0,160.0 C332.8,155.2 335.5,150.5 340.0,147.0 C344.5,143.5 351.5,141.2 357.0,139.0 C362.5,136.8 366.5,135.0 373.0,134.0 C379.5,133.0 390.0,131.8 396.0,133.0 C402.0,134.2 407.2,137.5 409.0,141.0 C410.8,144.5 409.3,151.2 407.0,154.0 C404.7,156.8 399.6,157.5 395.0,158.0 C390.4,158.5 386.6,156.0 379.6,157.0 C372.6,158.0 359.3,161.5 353.0,164.0 C346.7,166.5 344.5,169.3 342.0,172.0 C339.5,174.7 338.7,178.7 338.0,180.0" fill="none" stroke="#eeb55a" stroke-width="1" opacity=".8" transform="translate(0,-4.5)"/>
<path d="M352.0,182.0 C350.3,184.2 344.7,189.5 342.0,195.0 C339.3,200.5 337.2,207.5 336.0,215.0 C334.8,222.5 334.7,232.2 335.0,240.0 C335.3,247.8 336.2,255.0 338.0,262.0 C339.8,269.0 344.7,278.7 346.0,282.0" fill="none" stroke="#fde3a2" stroke-width="5" opacity=".8" filter="url(#b1)"/>
</g>
<path d="M100.0,233.0 C99.5,228.2 99.3,224.2 100.0,220.0 C100.7,215.8 102.3,209.3 104.0,208.0 C105.7,206.7 109.7,213.3 110.0,212.0 C110.3,210.7 106.5,203.3 106.0,200.0 C105.5,196.7 105.8,195.6 107.0,192.0 C108.2,188.4 110.7,182.6 113.0,178.7 C115.3,174.8 117.8,171.6 120.6,168.5 C123.4,165.4 127.8,161.8 130.0,160.0 C132.2,158.2 133.0,160.0 134.0,158.0 C135.0,156.0 134.0,152.2 136.0,148.0 C138.0,143.8 142.8,136.3 146.0,132.7 C149.2,129.1 152.0,128.4 155.0,126.5 C158.0,124.6 161.2,123.1 164.0,121.5 C166.8,119.9 169.9,118.1 172.0,117.0 C174.1,115.9 175.8,116.3 176.8,115.0 C177.8,113.7 177.2,111.2 177.8,109.0 C178.4,106.8 178.8,104.2 180.5,101.5 C182.2,98.8 184.8,96.4 188.0,93.0 C191.2,89.6 195.4,84.6 200.0,81.3 C204.6,78.0 210.5,75.0 215.3,73.0 C220.1,71.0 225.4,69.5 229.0,69.0 C232.6,68.5 235.1,69.4 236.8,69.9 C238.5,70.4 238.5,72.7 239.0,71.8 C239.5,70.9 238.8,66.7 240.0,64.5 C241.2,62.3 242.5,60.5 246.0,58.4 C249.5,56.3 256.2,53.6 261.0,52.0 C265.8,50.4 271.2,49.2 275.0,49.0 C278.8,48.8 281.7,49.7 284.0,50.7 C286.3,51.8 287.7,53.9 288.8,55.3 C289.9,56.7 290.2,59.1 290.7,59.0 C291.2,58.9 290.7,56.3 291.9,54.5 C293.1,52.7 295.5,50.2 298.0,48.4 C300.5,46.6 302.8,45.2 307.0,43.8 C311.2,42.4 317.3,40.6 323.0,40.0 C328.7,39.4 337.5,39.6 341.4,40.0 C345.3,40.4 345.4,41.5 346.5,42.5 C347.6,43.5 347.4,46.1 348.0,46.0 C348.6,45.9 348.9,43.3 350.0,42.0 C351.1,40.7 349.8,39.5 354.7,38.3 C359.6,37.1 373.5,35.0 379.6,35.0 C385.7,35.0 388.8,36.6 391.3,38.0 C393.8,39.4 393.5,40.0 394.6,43.3 C395.7,46.6 396.9,53.1 398.0,58.0 C399.1,62.9 400.4,72.5 401.3,72.5 C402.2,72.5 402.7,62.9 403.5,58.0 C404.3,53.1 405.2,47.0 406.2,43.3 C407.2,39.5 406.9,37.3 409.6,35.5 C412.3,33.7 417.4,32.9 422.4,32.5 C427.4,32.1 433.3,31.8 439.5,33.3 C445.7,34.8 454.6,39.0 459.4,41.6 C464.1,44.2 465.8,46.8 468.0,49.0 C470.2,51.2 471.6,52.6 472.7,55.0 C473.8,57.4 473.6,63.2 474.4,63.5 C475.2,63.8 476.3,58.4 477.7,56.6 C479.1,54.8 480.5,53.4 483.0,52.5 C485.5,51.6 489.9,51.1 492.7,51.0 C495.5,50.9 496.3,50.8 500.0,52.0 C503.7,53.2 509.5,55.5 515.0,58.0 C520.5,60.5 527.0,63.5 533.0,67.0 C539.0,70.5 546.3,74.6 551.0,78.7 C555.7,82.8 559.1,87.6 561.0,91.4 C562.9,95.2 563.7,99.0 562.5,101.6 C561.3,104.2 553.4,106.3 554.0,107.0 C554.6,107.7 562.2,104.7 566.0,105.5 C569.8,106.3 573.9,109.2 576.5,112.0 C579.1,114.8 580.8,119.2 581.6,122.0 C582.4,124.8 582.1,126.7 581.5,129.0 C580.9,131.3 579.6,133.9 578.0,136.0 C576.4,138.1 572.6,140.1 572.0,141.5 C571.4,142.9 573.7,142.9 574.5,144.5 C575.3,146.1 576.4,147.9 576.8,151.0 C577.2,154.1 576.5,159.7 577.0,163.0 C577.5,166.3 578.8,168.9 579.5,171.0 C580.2,173.1 580.2,175.3 581.0,175.5 C581.8,175.7 582.6,172.8 584.0,172.0 C585.4,171.2 586.8,170.6 589.5,170.5 C592.2,170.4 596.8,170.9 600.0,171.5 C603.2,172.1 606.2,172.8 608.5,174.0 C610.8,175.2 612.6,177.2 614.0,179.0 C615.4,180.8 616.2,183.0 617.0,185.0 C617.8,187.0 617.8,190.8 618.5,191.0 C619.2,191.2 619.8,187.6 621.0,186.5 C622.2,185.4 622.9,184.6 626.0,184.3 C629.1,184.0 635.1,183.4 639.7,184.6 C644.3,185.8 650.1,188.5 653.6,191.6 C657.1,194.7 658.2,199.3 660.7,203.0 C663.2,206.7 666.1,210.2 668.6,214.0 C671.1,217.8 673.5,221.6 676.0,225.7 C678.5,229.8 681.7,234.3 683.5,238.8 C685.3,243.3 686.2,248.1 686.8,252.7 C687.3,257.3 687.4,262.0 686.8,266.5 C686.2,271.0 684.6,276.1 683.0,279.5 C681.4,282.9 679.5,284.8 677.0,287.0 C674.5,289.2 671.8,291.1 668.0,292.5 C664.2,293.9 658.7,295.1 654.0,295.5 C649.3,295.9 645.0,295.5 640.0,295.0 C635.0,294.5 628.6,293.9 624.0,292.5 C619.4,291.1 615.5,289.1 612.5,286.5 C609.5,283.9 607.3,280.4 605.7,277.0 C604.1,273.6 604.3,266.0 603.0,266.0 C601.7,266.0 600.2,274.5 598.0,277.0 C595.8,279.5 593.5,280.0 590.0,281.0 C586.5,282.0 582.0,282.9 577.0,283.0 C572.0,283.1 565.7,281.9 560.0,281.4 C554.3,280.9 546.5,279.7 543.0,280.0 C539.5,280.3 540.2,281.7 539.0,283.0 C537.8,284.3 539.7,286.6 536.0,288.0 C532.3,289.4 523.5,290.4 517.0,291.4 C510.5,292.4 503.8,293.1 497.0,294.0 C490.2,294.9 482.5,295.7 476.5,297.0 C470.5,298.3 464.6,301.7 461.0,301.6 C457.4,301.5 456.7,298.5 455.0,296.5 C453.3,294.5 455.9,290.1 451.0,289.5 C446.1,288.9 434.0,291.8 425.5,292.7 C417.0,293.6 407.0,294.4 400.0,295.0 C393.0,295.6 387.9,295.8 383.7,296.5 C379.5,297.2 377.6,299.1 375.0,299.0 C372.4,298.9 370.2,297.1 368.0,296.0 C365.8,294.9 364.5,293.1 362.0,292.5 C359.5,291.9 354.9,292.4 353.0,292.7 C351.1,292.9 352.2,296.3 350.5,294.0 C348.8,291.7 346.0,285.5 343.0,278.7 C340.0,271.9 334.5,257.9 332.6,253.0 C330.7,248.1 331.0,247.3 331.4,249.0 C331.8,250.7 333.6,257.2 335.0,263.0 C336.4,268.8 338.1,278.4 340.0,284.0 C341.9,289.6 346.2,293.6 346.7,296.5 C347.2,299.4 346.2,301.9 343.0,301.6 C339.8,301.4 332.7,297.6 327.5,295.0 C322.3,292.4 315.4,287.7 312.0,286.0 C308.6,284.3 310.8,284.3 307.0,285.0 C303.2,285.7 294.1,289.6 289.0,290.0 C283.9,290.4 279.4,288.9 276.5,287.6 C273.6,286.4 274.4,283.1 271.4,282.5 C268.4,281.9 264.3,282.7 258.7,283.8 C253.1,284.9 245.3,287.5 238.0,289.0 C230.7,290.5 219.5,292.2 215.0,292.7 C210.5,293.2 212.7,293.9 211.0,292.0 C209.3,290.1 206.3,281.9 204.8,281.6 C203.3,281.4 204.1,288.6 202.0,290.5 C199.9,292.4 197.1,292.8 192.0,293.0 C186.9,293.2 178.8,292.9 171.6,291.8 C164.4,290.8 156.0,289.2 148.7,286.7 C141.4,284.1 133.9,280.3 128.0,276.5 C122.0,272.7 117.2,268.5 113.0,263.8 C108.8,259.1 104.9,253.6 102.7,248.5 C100.5,243.4 100.5,237.8 100.0,233.0Z" fill="none" stroke="#eeb052" stroke-width="1" opacity=".85"/>
<path d="M285.0,165.0 C284.9,164.1 291.7,162.7 296.0,161.5 C300.3,160.3 305.8,159.1 311.0,158.0 C316.2,156.9 322.6,156.2 327.0,155.0 C331.4,153.8 333.4,153.3 337.5,151.0 C341.6,148.7 347.1,143.5 351.8,141.0 C356.6,138.5 360.9,137.2 366.0,135.8 C371.1,134.4 376.6,133.6 382.4,132.8 C388.2,132.1 397.7,131.1 400.8,131.3 C403.9,131.5 403.9,133.2 400.8,133.8 C397.7,134.4 388.2,134.1 382.4,134.8 C376.6,135.5 371.1,136.5 366.0,138.0 C360.9,139.5 356.1,141.5 351.8,144.0 C347.5,146.5 343.1,150.3 340.0,153.0 C336.9,155.7 335.2,157.9 333.0,160.0 C330.8,162.1 329.0,163.4 327.0,165.5 C325.0,167.6 322.5,169.8 321.0,172.5 C319.5,175.2 319.1,181.6 318.0,181.5 C316.9,181.4 316.3,174.2 314.5,172.0 C312.7,169.8 310.0,168.9 307.0,168.0 C304.0,167.1 300.4,167.3 296.7,166.8 C293.0,166.3 285.1,165.9 285.0,165.0Z" fill="#fff"/>
<path d="M487.0,178.0 C486.6,177.3 490.1,170.2 491.4,167.0 C492.7,163.8 493.6,161.5 495.0,159.0 C496.4,156.5 498.0,154.1 499.7,152.0 C501.4,149.9 503.1,148.2 505.0,146.5 C506.9,144.8 508.5,143.1 510.8,141.5 C513.1,139.9 516.5,137.2 519.0,137.0 C521.5,136.8 523.7,138.8 526.0,140.0 C528.3,141.2 530.2,143.1 533.0,144.5 C535.8,145.9 543.0,148.2 543.0,148.5 C543.0,148.8 535.8,146.7 533.0,146.5 C530.2,146.3 528.3,147.4 526.0,147.5 C523.7,147.6 521.1,146.8 519.0,147.0 C516.9,147.2 515.6,147.6 513.6,148.5 C511.6,149.4 508.9,151.0 507.0,152.5 C505.1,154.0 504.0,155.6 502.5,157.5 C501.0,159.4 499.4,161.8 498.0,164.0 C496.6,166.2 495.8,168.7 494.0,171.0 C492.2,173.3 487.4,178.7 487.0,178.0Z" fill="#fff"/>
<path d="M236.5,83.8 C235.2,86.5 230.9,93.6 229.0,100.0 C227.1,106.4 226.3,115.7 225.0,122.0 C223.7,128.3 220.6,133.2 221.0,138.0 C221.4,142.8 224.0,147.3 227.7,150.6 C231.4,153.9 240.4,156.8 243.0,158.0" fill="none" stroke="#cfc18f" stroke-width="2.4" opacity=".85" filter="url(#b0)"/>
<path d="M311.5,171.6 C311.6,176.8 316.1,193.0 315.0,202.6 C313.9,212.2 309.3,220.6 305.0,229.0 C300.7,237.3 293.3,246.1 289.3,252.7 C285.2,259.4 282.4,264.8 280.7,269.0 C279.0,273.1 278.9,276.0 279.2,277.6 C279.4,279.1 281.0,279.5 282.0,278.4 C283.1,277.3 283.4,274.9 285.3,271.0 C287.2,267.2 289.6,262.0 293.5,255.3 C297.5,248.6 304.8,239.7 309.0,231.0 C313.3,222.3 318.1,213.0 319.0,203.0 C319.9,193.0 315.7,176.4 314.5,171.2 C313.2,166.0 311.4,166.4 311.5,171.6Z" fill="#b3aa7c" filter="url(#b0)" opacity=".9"/>
<path d="M299.2,241.4 C297.3,243.1 292.4,248.6 289.5,252.8 C286.5,257.1 283.2,263.1 281.5,266.8 C279.8,270.6 279.5,273.4 279.1,275.4 C278.7,277.4 279.0,278.1 279.3,278.8 C279.7,279.4 280.7,279.6 281.3,279.2 C281.9,278.9 282.0,278.3 282.9,276.6 C283.8,275.0 284.7,272.8 286.5,269.2 C288.2,265.6 290.9,259.6 293.3,255.2 C295.7,250.7 299.8,244.9 300.8,242.6 C301.8,240.3 301.1,239.7 299.2,241.4Z" fill="#8a8660" filter="url(#b0)" opacity=".9"/>
<path d="M122.8,260.2 C124.4,261.1 129.3,262.7 132.6,263.8 C135.9,264.8 139.4,265.7 142.6,266.4 C145.8,267.1 148.7,267.5 151.7,267.8 C154.7,268.1 157.7,268.0 160.7,268.2 C163.6,268.5 166.9,268.7 169.5,269.2 C172.0,269.7 174.1,270.2 176.2,271.1 C178.4,271.9 181.2,274.1 182.4,274.3 C183.7,274.6 184.3,273.7 183.6,272.7 C182.8,271.6 180.0,269.2 177.8,267.9 C175.6,266.6 173.3,265.7 170.5,264.8 C167.8,264.0 164.4,263.3 161.3,262.8 C158.3,262.3 155.3,262.1 152.3,261.8 C149.3,261.5 146.6,261.3 143.4,261.0 C140.3,260.7 136.8,260.2 133.4,259.8 C130.0,259.5 124.9,258.7 123.2,258.8 C121.4,258.8 121.3,259.4 122.8,260.2Z" fill="#a09a70" filter="url(#b0)" opacity=".9"/>
<path d="M186.3,159.5 C186.6,160.6 183.8,167.5 183.0,171.0 C182.2,174.5 179.5,179.4 181.4,180.5 C183.3,181.6 189.5,179.2 194.3,177.3 C199.2,175.4 204.6,171.4 210.5,169.0 C216.4,166.6 223.5,164.6 230.0,162.8 C236.5,161.0 242.9,159.6 249.3,158.0 C255.8,156.4 261.9,155.2 268.7,153.0 C275.5,150.8 284.8,147.3 290.0,145.0 C295.2,142.7 298.3,138.5 300.0,139.0 C301.7,139.5 301.7,145.4 300.0,148.0 C298.3,150.6 294.7,152.5 290.0,154.7 C285.3,156.9 277.7,159.1 272.0,161.0 C266.3,162.9 261.1,164.3 255.7,166.0 C250.3,167.7 245.0,169.0 239.6,170.9 C234.2,172.8 227.7,175.2 223.4,177.3 C219.1,179.5 215.8,181.7 213.7,183.8 C211.5,185.9 209.9,188.4 210.5,190.0 C211.1,191.6 214.3,193.7 217.0,193.5 C219.7,193.3 224.3,190.2 226.7,188.6 C229.1,187.0 229.6,184.9 231.5,183.8 C233.4,182.7 236.1,181.7 238.0,182.0 C239.9,182.3 243.1,183.8 242.8,185.4 C242.5,187.1 238.0,189.8 236.4,191.9 C234.8,194.1 233.3,196.2 233.0,198.3 C232.7,200.5 232.0,203.7 234.7,204.8 C237.4,205.9 244.7,205.6 249.3,204.8 C253.9,204.0 258.4,200.7 262.2,200.0 C266.0,199.3 270.1,200.1 272.0,200.6 C273.9,201.1 275.1,202.0 273.5,203.0 C271.9,204.0 265.7,205.1 262.2,206.4 C258.7,207.7 254.7,208.9 252.5,211.0 C250.3,213.1 249.6,216.0 249.3,219.0 C249.0,222.0 250.9,225.7 250.9,229.0 C250.9,232.3 250.1,237.4 249.3,238.7 C248.5,240.0 246.7,239.2 246.0,237.0 C245.3,234.8 246.2,229.0 245.4,225.8 C244.6,222.6 243.6,219.6 241.0,217.7 C238.4,215.8 234.0,214.5 230.0,214.5 C226.0,214.5 220.5,215.8 217.0,217.7 C213.5,219.6 211.6,222.3 208.9,225.8 C206.2,229.3 204.0,234.9 200.8,238.7 C197.6,242.5 192.7,245.4 189.5,248.4 C186.3,251.4 183.0,253.8 181.4,256.5 C179.8,259.2 179.3,261.6 179.8,264.6 C180.3,267.6 184.6,273.0 184.6,274.3 C184.6,275.6 181.4,274.3 179.8,272.7 C178.2,271.1 176.9,268.1 175.0,264.6 C173.1,261.1 171.2,256.0 168.5,251.7 C165.8,247.4 162.1,242.5 158.8,238.7 C155.6,234.9 152.2,231.4 149.0,229.0 C145.8,226.6 142.1,225.3 139.4,224.0 C136.7,222.7 134.3,222.6 133.0,221.0 C131.7,219.4 130.2,216.9 131.3,214.5 C132.4,212.1 136.5,208.6 139.4,206.4 C142.3,204.2 145.8,202.9 149.0,201.6 C152.2,200.2 156.6,200.2 158.8,198.3 C161.0,196.4 162.0,192.2 162.0,190.0 C162.0,187.8 160.1,186.7 158.8,185.4 C157.5,184.1 153.0,183.1 154.0,182.0 C155.0,180.9 161.5,180.3 165.0,179.0 C168.5,177.7 172.3,176.4 175.0,174.0 C177.7,171.6 179.5,166.8 181.4,164.4 C183.3,162.0 186.0,158.4 186.3,159.5Z" fill="#bab082" stroke="#9c9670" stroke-width="1.5" filter="url(#b0)"/>
<ellipse cx="170" cy="226" rx="14" ry="18" fill="#c6bc8e" opacity=".8" filter="url(#b2)" transform="rotate(-30 170 226)"/>
<ellipse cx="146" cy="210" rx="7" ry="4" fill="#cbc193" filter="url(#b1)" transform="rotate(-30 146 210)"/>
<ellipse cx="193" cy="221" rx="6" ry="11" fill="#c6bc8e" filter="url(#b1)" transform="rotate(25 193 221)"/>
<path d="M162.0,199.0 C161.5,200.8 158.6,205.3 158.8,209.6 C159.0,213.9 160.8,219.1 163.0,225.0 C165.2,230.9 169.3,238.8 172.0,245.0 C174.7,251.2 177.8,259.2 179.0,262.0" fill="none" stroke="#87845f" stroke-width="1.6" opacity=".7" filter="url(#b0)"/>
<path d="M200.8,190.0 C199.7,191.7 197.0,196.7 194.3,200.0 C191.6,203.3 186.7,205.9 184.6,209.6 C182.5,213.3 181.8,217.8 182.0,222.0 C182.2,226.2 185.3,232.8 186.0,235.0" fill="none" stroke="#87845f" stroke-width="1.6" opacity=".6" filter="url(#b0)"/>
<path d="M262.0,162.5 C262.3,161.2 268.2,159.7 272.0,158.0 C275.8,156.3 279.8,155.2 284.5,152.5 C289.2,149.8 296.0,144.7 300.4,141.5 C304.8,138.3 307.2,136.0 310.6,133.5 C314.0,131.0 317.4,128.2 320.8,126.5 C324.2,124.8 327.6,122.8 331.0,123.0 C334.4,123.2 336.4,126.9 341.2,127.5 C346.0,128.1 352.9,126.7 360.0,126.4 C367.1,126.1 381.2,125.2 383.5,125.8 C385.8,126.3 379.3,127.7 374.0,129.7 C368.7,131.7 358.9,134.8 351.8,137.9 C344.7,141.0 338.2,145.3 331.4,148.0 C324.6,150.7 317.8,152.2 311.0,154.0 C304.2,155.8 295.0,156.5 290.6,158.5 C286.2,160.5 287.9,164.8 284.5,166.0 C281.1,167.2 273.8,166.6 270.0,166.0 C266.2,165.4 261.7,163.8 262.0,162.5Z" fill="#c6b36c" filter="url(#b0)"/>
<path d="M449.0,108.0 C451.2,106.0 453.5,110.2 455.0,113.0 C456.5,115.8 457.3,121.5 458.0,125.0 C458.7,128.5 458.5,130.7 459.0,134.0 C459.5,137.3 460.2,141.8 461.0,145.0 C461.8,148.2 462.5,149.8 463.7,153.0 C464.9,156.2 466.6,160.7 468.0,164.0 C469.4,167.3 470.2,170.4 472.0,172.6 C473.8,174.8 476.7,175.8 479.0,177.0 C481.3,178.2 482.7,179.7 485.9,179.5 C489.1,179.3 493.9,177.2 498.0,176.0 C502.1,174.8 506.8,173.9 510.8,172.6 C514.8,171.3 518.3,169.4 522.0,168.0 C525.7,166.6 529.8,165.2 533.0,164.0 C536.2,162.8 538.7,161.6 541.0,161.0 C543.3,160.4 545.4,160.0 546.8,160.5 C548.2,161.0 549.6,161.8 549.6,164.0 C549.6,166.2 547.9,170.7 547.0,174.0 C546.1,177.3 545.0,180.5 544.0,183.7 C543.0,186.9 541.9,189.8 541.0,193.0 C540.1,196.2 539.4,199.0 538.5,203.0 C537.6,207.0 537.1,213.3 535.7,217.0 C534.3,220.7 531.8,224.5 530.0,225.0 C528.2,225.5 526.4,221.8 525.0,220.0 C523.6,218.2 523.4,215.8 521.9,214.0 C520.4,212.2 518.0,210.7 516.0,209.5 C514.0,208.3 511.8,207.4 510.0,207.0 C508.2,206.6 506.8,206.5 505.0,207.0 C503.2,207.5 500.6,208.3 499.0,210.0 C497.4,211.7 496.4,214.7 495.6,217.0 C494.8,219.3 495.3,221.5 494.0,224.0 C492.7,226.5 490.7,229.3 488.0,232.0 C485.3,234.7 481.0,239.5 478.0,240.0 C475.0,240.5 472.0,239.2 470.0,235.0 C468.0,230.8 467.7,220.8 466.0,215.0 C464.3,209.2 462.7,203.8 460.0,200.0 C457.3,196.2 453.8,194.0 450.0,192.0 C446.2,190.0 441.2,188.3 437.0,188.0 C432.8,187.7 428.7,188.7 425.0,190.0 C421.3,191.3 418.3,195.3 415.0,196.0 C411.7,196.7 407.5,195.8 405.0,194.0 C402.5,192.2 398.8,188.7 400.0,185.0 C401.2,181.3 407.8,176.2 412.0,172.0 C416.2,167.8 421.0,164.5 425.0,160.0 C429.0,155.5 433.2,150.8 436.0,145.0 C438.8,139.2 439.8,131.2 442.0,125.0 C444.2,118.8 446.8,110.0 449.0,108.0Z" fill="#c6bb8c" filter="url(#b1)"/>
<path d="M360.0,172.0 C361.5,168.0 370.0,167.5 375.0,166.0 C380.0,164.5 385.5,163.3 390.0,163.0 C394.5,162.7 398.2,165.2 402.0,164.0 C405.8,162.8 409.6,158.7 412.6,156.0 C415.6,153.3 419.1,151.2 420.0,148.0 C420.9,144.8 416.4,138.3 417.7,137.0 C419.0,135.7 424.9,141.2 428.0,140.0 C431.1,138.8 433.8,133.7 436.0,130.0 C438.2,126.3 439.7,117.2 441.0,118.0 C442.3,118.8 444.2,129.7 444.0,135.0 C443.8,140.3 443.2,145.0 440.0,150.0 C436.8,155.0 430.0,160.0 425.0,165.0 C420.0,170.0 413.8,175.0 410.0,180.0 C406.2,185.0 405.3,191.5 402.0,195.0 C398.7,198.5 394.5,200.3 390.0,201.0 C385.5,201.7 379.0,200.8 375.0,199.0 C371.0,197.2 368.5,194.5 366.0,190.0 C363.5,185.5 358.5,176.0 360.0,172.0Z" fill="#aaa279" filter="url(#b1)"/>
<path d="M368.0,200.0 C370.0,195.5 378.8,198.7 385.0,198.0 C391.2,197.3 399.2,195.7 405.0,196.0 C410.8,196.3 415.8,196.8 420.0,200.0 C424.2,203.2 427.8,209.2 430.0,215.0 C432.2,220.8 432.7,228.3 433.0,235.0 C433.3,241.7 432.8,249.2 432.0,255.0 C431.2,260.8 431.7,266.5 428.0,270.0 C424.3,273.5 416.3,275.2 410.0,276.0 C403.7,276.8 395.3,276.3 390.0,275.0 C384.7,273.7 380.5,272.2 378.0,268.0 C375.5,263.8 375.8,257.2 375.0,250.0 C374.2,242.8 374.2,233.3 373.0,225.0 C371.8,216.7 366.0,204.5 368.0,200.0Z" fill="#aba782" filter="url(#b2s)"/>
<ellipse cx="402" cy="234" rx="24" ry="28" fill="#66665a" opacity="0.45" filter="url(#b3)"/>
<path d="M428.0,240.0 C428.7,239.2 428.8,247.8 432.0,250.0 C435.2,252.2 442.3,252.8 447.0,253.0 C451.7,253.2 456.5,252.3 460.0,251.0 C463.5,249.7 465.3,246.3 468.0,245.0 C470.7,243.7 475.0,241.8 476.0,243.0 C477.0,244.2 474.7,248.8 474.0,252.0 C473.3,255.2 473.3,258.7 472.0,262.0 C470.7,265.3 468.3,268.7 466.0,272.0 C463.7,275.3 460.3,279.2 458.0,282.0 C455.7,284.8 455.0,287.7 452.0,289.0 C449.0,290.3 443.3,291.2 440.0,290.0 C436.7,288.8 433.8,285.7 432.0,282.0 C430.2,278.3 429.7,272.5 429.0,268.0 C428.3,263.5 428.2,259.7 428.0,255.0 C427.8,250.3 427.3,240.8 428.0,240.0Z" fill="#b3aa7c" filter="url(#b1)"/>
<path d="M366.0,280.0 C366.0,277.0 369.7,272.7 372.0,270.0 C374.3,267.3 376.2,263.7 380.0,264.0 C383.8,264.3 389.2,270.0 395.0,272.0 C400.8,274.0 408.8,275.5 415.0,276.0 C421.2,276.5 426.5,273.5 432.0,275.0 C437.5,276.5 444.7,282.7 448.0,285.0 C451.3,287.3 453.3,288.0 452.0,289.0 C450.7,290.0 445.3,290.5 440.0,291.0 C434.7,291.5 426.7,291.7 420.0,292.0 C413.3,292.3 405.8,293.2 400.0,293.0 C394.2,292.8 389.7,291.8 385.0,291.0 C380.3,290.2 375.2,289.8 372.0,288.0 C368.8,286.2 366.0,283.0 366.0,280.0Z" fill="#cdbb78" filter="url(#b1)"/>
<path d="M462.0,202.0 C462.5,197.0 467.0,192.8 470.0,190.0 C473.0,187.2 476.7,186.0 480.0,185.0 C483.3,184.0 487.0,182.3 490.0,184.0 C493.0,185.7 496.8,190.7 498.0,195.0 C499.2,199.3 497.7,205.5 497.0,210.0 C496.3,214.5 495.8,218.3 494.0,222.0 C492.2,225.7 488.7,229.0 486.0,232.0 C483.3,235.0 480.7,237.3 478.0,240.0 C475.3,242.7 472.0,245.0 470.0,248.0 C468.0,251.0 467.3,257.3 466.0,258.0 C464.7,258.7 461.8,255.8 462.0,252.0 C462.2,248.2 466.2,240.3 467.0,235.0 C467.8,229.7 467.8,225.5 467.0,220.0 C466.2,214.5 461.5,207.0 462.0,202.0Z" fill="#b9ae80" filter="url(#b1)"/>
<path d="M425.0,191.0 C426.6,189.8 430.2,188.9 433.0,188.5 C435.8,188.1 438.8,187.7 441.5,188.3 C444.2,188.9 446.7,190.2 449.0,192.0 C451.3,193.8 453.4,196.6 455.4,199.4 C457.4,202.2 459.4,205.8 461.0,209.0 C462.6,212.2 464.0,215.6 465.0,218.8 C466.0,222.0 466.8,225.2 467.0,228.0 C467.2,230.8 467.0,232.9 466.5,235.4 C466.0,237.9 465.2,240.8 464.0,243.0 C462.8,245.2 461.3,247.3 459.5,248.5 C457.7,249.7 455.1,249.9 453.0,250.0 C450.9,250.1 449.0,250.0 447.0,249.0 C445.0,248.0 442.8,245.8 441.0,244.0 C439.2,242.2 437.7,240.5 436.0,238.0 C434.3,235.5 432.4,231.8 431.0,229.0 C429.6,226.2 428.8,224.5 427.7,221.5 C426.6,218.5 425.2,214.2 424.5,211.0 C423.8,207.8 423.7,204.5 423.5,202.0 C423.3,199.5 423.2,197.8 423.5,196.0 C423.8,194.2 423.4,192.2 425.0,191.0Z" fill="#b0a672" stroke="#85816a" stroke-width="1" filter="url(#b0)"/>
<path d="M446.0,114.0 C444.3,115.5 443.7,123.5 441.0,127.0 C438.3,130.5 434.2,133.1 430.0,135.0 C425.8,136.9 417.0,137.4 416.0,138.5 C415.0,139.6 421.3,140.1 424.0,141.5 C426.7,142.9 429.3,145.2 432.0,147.0 C434.7,148.8 437.0,152.2 440.0,152.0 C443.0,151.8 447.8,149.3 450.0,146.0 C452.2,142.7 452.8,136.7 453.0,132.0 C453.2,127.3 452.2,121.0 451.0,118.0 C449.8,115.0 447.7,112.5 446.0,114.0Z" fill="#66655a" opacity=".8" filter="url(#b1)"/>
<path d="M446.5,127.4 C445.1,129.1 445.9,135.1 444.7,138.9 C443.5,142.7 441.7,146.5 439.5,150.4 C437.2,154.3 434.3,158.5 431.1,162.4 C428.0,166.2 424.3,169.8 420.6,173.6 C416.9,177.3 412.1,181.6 408.8,184.7 C405.6,187.8 402.2,190.5 401.2,192.1 C400.2,193.6 401.2,194.7 402.8,193.9 C404.5,193.1 407.7,190.2 411.2,187.3 C414.6,184.4 419.4,180.1 423.4,176.4 C427.3,172.8 431.4,169.4 434.9,165.6 C438.4,161.8 441.8,157.7 444.5,153.6 C447.3,149.5 449.8,145.3 451.3,141.1 C452.8,136.9 454.2,130.9 453.5,128.6 C452.7,126.3 448.0,125.7 446.5,127.4Z" fill="#5b5a4c" opacity=".75" filter="url(#b1)"/>
<ellipse cx="383" cy="184" rx="20" ry="11" fill="#55543f" opacity="0.6" filter="url(#b2)"/>
<path d="M446.0,112.0 C445.5,115.0 444.7,124.3 443.0,130.0 C441.3,135.7 438.8,141.0 436.0,146.0 C433.2,151.0 429.7,155.7 426.0,160.0 C422.3,164.3 417.7,168.3 414.0,172.0 C410.3,175.7 405.7,180.3 404.0,182.0" fill="none" stroke="#4e4d40" stroke-width="2" opacity="0.55" filter="url(#b0)"/>
<path d="M456.0,118.0 C456.2,120.8 457.5,129.7 457.0,135.0 C456.5,140.3 455.0,145.2 453.0,150.0 C451.0,154.8 448.3,159.3 445.0,164.0 C441.7,168.7 437.2,173.7 433.0,178.0 C428.8,182.3 422.2,188.0 420.0,190.0" fill="none" stroke="#4e4d40" stroke-width="1.4" opacity="0.45" filter="url(#b0)"/>
<path d="M416.0,139.0 C417.3,140.3 421.3,145.2 424.0,147.0 C426.7,148.8 430.7,149.5 432.0,150.0" fill="none" stroke="#4e4d40" stroke-width="1.6" opacity="0.5" filter="url(#b0)"/>
<path d="M400.0,168.0 C402.0,168.7 407.7,172.0 412.0,172.0 C416.3,172.0 421.7,170.3 426.0,168.0 C430.3,165.7 436.0,159.7 438.0,158.0" fill="none" stroke="#4e4d40" stroke-width="1.4" opacity="0.45" filter="url(#b0)"/>
<path d="M392.0,172.0 C394.0,173.0 399.7,177.0 404.0,178.0 C408.3,179.0 415.7,178.0 418.0,178.0" fill="none" stroke="#4e4d40" stroke-width="1.4" opacity="0.4" filter="url(#b0)"/>
<path d="M372.0,205.0 C373.3,206.7 378.0,211.2 380.0,215.0 C382.0,218.8 383.3,225.8 384.0,228.0" fill="none" stroke="#4e4d40" stroke-width="1.2" opacity="0.35" filter="url(#b0)"/>
<path d="M390.0,205.0 C391.3,207.5 396.0,214.2 398.0,220.0 C400.0,225.8 401.7,233.3 402.0,240.0 C402.3,246.7 400.3,256.7 400.0,260.0" fill="none" stroke="#4e4d40" stroke-width="1.2" opacity="0.3" filter="url(#b0)"/>
<path d="M410.0,202.0 C411.3,205.0 415.7,213.7 418.0,220.0 C420.3,226.3 422.7,233.0 424.0,240.0 C425.3,247.0 425.7,258.3 426.0,262.0" fill="none" stroke="#4e4d40" stroke-width="1.2" opacity="0.35" filter="url(#b0)"/>
<path d="M344.0,193.0 C345.0,191.3 347.3,186.3 350.0,183.0 C352.7,179.7 355.8,175.5 360.0,173.0 C364.2,170.5 370.0,169.2 375.0,168.0 C380.0,166.8 387.5,166.3 390.0,166.0" fill="none" stroke="#6a684f" stroke-width="1.8" filter="url(#b0)"/>
<path d="M345.0,272.0 C346.7,273.3 351.7,277.5 355.0,280.0 C358.3,282.5 362.0,285.2 365.0,287.0 C368.0,288.8 371.7,290.3 373.0,291.0" fill="none" stroke="#6a6648" stroke-width="1.8" filter="url(#b0)"/>
<ellipse cx="373.5" cy="292" rx="3" ry="2" fill="#5a563c"/>
<path d="M452.0,240.0 C453.0,242.5 455.7,249.7 458.0,255.0 C460.3,260.3 464.7,269.2 466.0,272.0" fill="none" stroke="#5c5a48" stroke-width="1.8" opacity=".7" filter="url(#b0)"/>
<path d="M474.0,240.0 C472.5,242.5 468.0,250.3 465.0,255.0 C462.0,259.7 457.5,265.8 456.0,268.0" fill="none" stroke="#5c5a48" stroke-width="1.8" opacity=".7" filter="url(#b0)"/>
<path d="M462.0,252.0 C463.3,253.7 467.8,258.7 470.0,262.0 C472.2,265.3 474.2,270.3 475.0,272.0" fill="none" stroke="#5c5a48" stroke-width="1.8" opacity=".7" filter="url(#b0)"/>
<path d="M468.0,232.0 C470.0,231.3 476.0,229.3 480.0,228.0 C484.0,226.7 490.0,224.7 492.0,224.0" fill="none" stroke="#8f8b6a" stroke-width="1.2" opacity=".8"/>
<path d="M466.0,238.0 C468.3,237.7 475.3,237.5 480.0,236.0 C484.7,234.5 491.7,230.2 494.0,229.0" fill="none" stroke="#8f8b6a" stroke-width="1.2" opacity=".8"/>
<path d="M462.0,250.0 C464.2,248.8 470.7,244.7 475.0,243.0 C479.3,241.3 485.8,240.5 488.0,240.0" fill="none" stroke="#8f8b6a" stroke-width="1.2" opacity=".8"/>
<path d="M470.0,275.0 C472.5,274.2 479.2,271.2 485.0,270.0 C490.8,268.8 499.2,268.0 505.0,268.0 C510.8,268.0 517.5,269.7 520.0,270.0" fill="none" stroke="#8f8b6a" stroke-width="1.2" opacity=".8"/>
<ellipse cx="468.5" cy="293.5" rx="7.5" ry="2.8" fill="#938e64" transform="rotate(-18 468.5 293.5)"/>
<ellipse cx="484" cy="288" rx="10" ry="3.4" fill="#938e64" transform="rotate(-22 484 288)"/>
<path d="M190.4,194.4 C192.2,192.8 197.4,187.3 200.9,184.3 C204.4,181.2 207.7,178.4 211.1,176.3 C214.5,174.1 217.8,172.7 221.2,171.3 C224.5,170.0 227.9,169.3 231.3,168.3 C234.7,167.3 238.1,166.2 241.5,165.4 C244.9,164.5 248.2,163.8 251.7,163.0 C255.2,162.1 259.6,161.1 262.4,160.2 C265.2,159.4 267.7,158.6 268.5,157.8 C269.4,157.0 268.6,155.2 267.5,155.2 C266.3,155.2 264.3,156.9 261.6,157.8 C258.9,158.7 254.6,159.7 251.1,160.6 C247.7,161.5 244.3,162.3 240.9,163.2 C237.5,164.2 234.1,165.3 230.7,166.3 C227.3,167.4 223.9,168.1 220.4,169.5 C217.0,170.9 213.5,172.5 210.1,174.7 C206.7,177.0 203.3,180.0 199.9,183.1 C196.5,186.3 191.2,191.8 189.6,193.6 C188.1,195.5 188.5,195.9 190.4,194.4Z" fill="#66634a" filter="url(#b0)"/>
<path d="M262.5,160.2 C264.4,159.9 268.8,157.7 272.6,156.2 C276.4,154.7 282.2,152.8 285.4,151.3 C288.5,149.8 288.7,149.1 291.4,147.3 C294.2,145.5 298.4,142.8 301.9,140.3 C305.4,137.8 308.9,135.0 312.3,132.6 C315.7,130.1 319.0,127.5 322.2,125.7 C325.5,123.9 328.6,122.7 331.8,121.8 C335.0,120.9 338.2,120.6 341.5,120.3 C344.8,119.9 348.1,120.0 351.6,119.7 C355.1,119.4 357.2,119.5 362.4,118.6 C367.7,117.7 376.1,115.9 383.0,114.3 C389.8,112.8 397.3,110.6 403.5,109.2 C409.8,107.9 416.1,106.8 420.5,106.2 C424.9,105.5 426.7,105.1 429.8,105.3 C432.9,105.5 436.6,106.0 439.1,107.5 C441.6,108.9 443.5,111.2 444.8,114.0 C446.1,116.7 447.0,120.6 447.1,123.8 C447.1,126.9 446.0,129.8 445.1,132.8 C444.2,135.9 443.0,139.0 441.6,142.1 C440.3,145.3 438.5,148.6 437.0,151.7 C435.5,154.7 432.0,158.0 432.4,160.3 C432.8,162.6 437.2,166.0 439.6,165.7 C442.0,165.4 444.5,161.3 447.0,158.3 C449.5,155.4 452.6,151.7 454.4,147.9 C456.2,144.0 457.5,139.4 457.9,135.2 C458.3,130.9 458.1,126.4 456.9,122.2 C455.8,118.0 453.6,113.5 451.2,110.0 C448.8,106.6 445.8,103.3 442.3,101.5 C438.8,99.7 434.0,99.3 430.2,99.1 C426.4,98.9 424.2,99.5 419.5,100.2 C414.9,101.0 408.6,102.3 402.3,103.8 C396.0,105.3 388.6,107.7 381.8,109.3 C375.0,110.9 366.7,112.6 361.6,113.4 C356.5,114.3 354.6,114.1 351.2,114.3 C347.8,114.5 344.4,114.4 340.9,114.7 C337.4,115.0 333.8,115.2 330.2,116.2 C326.6,117.2 322.9,118.7 319.4,120.7 C315.8,122.6 312.3,125.4 308.9,128.0 C305.5,130.7 302.2,133.7 298.9,136.3 C295.6,138.9 291.5,142.0 289.0,143.9 C286.4,145.8 286.6,146.3 283.6,147.9 C280.7,149.5 275.1,151.8 271.4,153.4 C267.7,155.1 263.0,156.7 261.5,157.8 C260.0,158.9 260.7,160.5 262.5,160.2Z" fill="#4b4a44" filter="url(#b0)"/>
<ellipse cx="384" cy="188.8" rx="6" ry="4" fill="#e9deb4" stroke="#4a4838" stroke-width="1"/>
<circle cx="384" cy="189" r="1" fill="#4a4838"/>
<g clip-path="url(#bc)"><rect x="95" y="28" width="600" height="280" filter="url(#gr)" opacity="0.25"/></g>
<path d="M285.0,165.0 C284.9,164.1 291.7,162.7 296.0,161.5 C300.3,160.3 305.8,159.1 311.0,158.0 C316.2,156.9 322.6,156.2 327.0,155.0 C331.4,153.8 333.4,153.3 337.5,151.0 C341.6,148.7 347.1,143.5 351.8,141.0 C356.6,138.5 360.9,137.2 366.0,135.8 C371.1,134.4 376.6,133.6 382.4,132.8 C388.2,132.1 397.7,131.1 400.8,131.3 C403.9,131.5 403.9,133.2 400.8,133.8 C397.7,134.4 388.2,134.1 382.4,134.8 C376.6,135.5 371.1,136.5 366.0,138.0 C360.9,139.5 356.1,141.5 351.8,144.0 C347.5,146.5 343.1,150.3 340.0,153.0 C336.9,155.7 335.2,157.9 333.0,160.0 C330.8,162.1 329.0,163.4 327.0,165.5 C325.0,167.6 322.5,169.8 321.0,172.5 C319.5,175.2 319.1,181.6 318.0,181.5 C316.9,181.4 316.3,174.2 314.5,172.0 C312.7,169.8 310.0,168.9 307.0,168.0 C304.0,167.1 300.4,167.3 296.7,166.8 C293.0,166.3 285.1,165.9 285.0,165.0Z" fill="#fff"/>
<path d="M487.0,178.0 C486.6,177.3 490.1,170.2 491.4,167.0 C492.7,163.8 493.6,161.5 495.0,159.0 C496.4,156.5 498.0,154.1 499.7,152.0 C501.4,149.9 503.1,148.2 505.0,146.5 C506.9,144.8 508.5,143.1 510.8,141.5 C513.1,139.9 516.5,137.2 519.0,137.0 C521.5,136.8 523.7,138.8 526.0,140.0 C528.3,141.2 530.2,143.1 533.0,144.5 C535.8,145.9 543.0,148.2 543.0,148.5 C543.0,148.8 535.8,146.7 533.0,146.5 C530.2,146.3 528.3,147.4 526.0,147.5 C523.7,147.6 521.1,146.8 519.0,147.0 C516.9,147.2 515.6,147.6 513.6,148.5 C511.6,149.4 508.9,151.0 507.0,152.5 C505.1,154.0 504.0,155.6 502.5,157.5 C501.0,159.4 499.4,161.8 498.0,164.0 C496.6,166.2 495.8,168.7 494.0,171.0 C492.2,173.3 487.4,178.7 487.0,178.0Z" fill="#fff"/>
<line x1="191.3" y1="60.5" x2="211" y2="74" stroke="#353535" stroke-width="1.1" stroke-dasharray="4.6 1.8"/>
<line x1="268.4" y1="33.7" x2="349.5" y2="150.5" stroke="#353535" stroke-width="1.1" stroke-dasharray="4.6 1.8"/>
<line x1="380.5" y1="17" x2="380.5" y2="109.5" stroke="#353535" stroke-width="1.1" stroke-dasharray="4.6 1.8"/>
<line x1="150.5" y1="91.8" x2="313" y2="160.3" stroke="#353535" stroke-width="1.1" stroke-dasharray="4.6 1.8"/>
<line x1="125" y1="126.6" x2="259" y2="163.5" stroke="#353535" stroke-width="1.1" stroke-dasharray="4.6 1.8"/>
<line x1="86.7" y1="196.7" x2="114.8" y2="201.3" stroke="#353535" stroke-width="1.1" stroke-dasharray="4.6 1.8"/>
<line x1="84.2" y1="254.5" x2="143.6" y2="218.4" stroke="#353535" stroke-width="1.1" stroke-dasharray="4.6 1.8"/>
<line x1="84.2" y1="254.9" x2="176.5" y2="260.6" stroke="#353535" stroke-width="1.1" stroke-dasharray="4.6 1.8"/>
<line x1="137.8" y1="304" x2="163.3" y2="278.5" stroke="#353535" stroke-width="1.1" stroke-dasharray="4.6 1.8"/>
<line x1="264.4" y1="306.6" x2="284" y2="278.7" stroke="#353535" stroke-width="1.1" stroke-dasharray="4.6 1.8"/>
<line x1="292.6" y1="323.2" x2="340" y2="227.6" stroke="#353535" stroke-width="1.1" stroke-dasharray="4.6 1.8"/>
<line x1="334" y1="344.7" x2="379" y2="208" stroke="#353535" stroke-width="1.1" stroke-dasharray="4.6 1.8"/>
<line x1="374.8" y1="364.6" x2="388" y2="241" stroke="#353535" stroke-width="1.1" stroke-dasharray="4.6 1.8"/>
<line x1="393.8" y1="374.6" x2="391" y2="283" stroke="#353535" stroke-width="1.1" stroke-dasharray="4.6 1.8"/>
<line x1="413.3" y1="391.8" x2="407" y2="226" stroke="#353535" stroke-width="1.1" stroke-dasharray="4.6 1.8"/>
<line x1="442.1" y1="382.9" x2="427.8" y2="254.7" stroke="#353535" stroke-width="1.1" stroke-dasharray="4.6 1.8"/>
<line x1="458.2" y1="363.8" x2="425.5" y2="210" stroke="#353535" stroke-width="1.1" stroke-dasharray="4.6 1.8"/>
<line x1="474.5" y1="354.8" x2="427.8" y2="220" stroke="#353535" stroke-width="1.1" stroke-dasharray="4.6 1.8"/>
<line x1="498.2" y1="343.4" x2="455" y2="228" stroke="#353535" stroke-width="1.1" stroke-dasharray="4.6 1.8"/>
<line x1="539" y1="319.1" x2="481.6" y2="227.6" stroke="#353535" stroke-width="1.1" stroke-dasharray="4.6 1.8"/>
<line x1="594.5" y1="301" x2="510.6" y2="221" stroke="#353535" stroke-width="1.1" stroke-dasharray="4.6 1.8"/>
<line x1="600.6" y1="140.8" x2="487.3" y2="178.6" stroke="#353535" stroke-width="1.1" stroke-dasharray="4.6 1.8"/>
<line x1="599.5" y1="89.3" x2="407" y2="193" stroke="#353535" stroke-width="1.1" stroke-dasharray="4.6 1.8"/>
<line x1="563.3" y1="43" x2="441" y2="148.5" stroke="#353535" stroke-width="1.1" stroke-dasharray="4.6 1.8"/>
<line x1="520" y1="18" x2="452" y2="104.8" stroke="#353535" stroke-width="1.1" stroke-dasharray="4.6 1.8"/>
<line x1="681.4" y1="251.2" x2="701" y2="251.4" stroke="#353535" stroke-width="1.1" stroke-dasharray="4.6 1.8"/>
<line x1="700.5" y1="252" x2="710.5" y2="252" stroke="#2a2a2a" stroke-width="2"/>
<line x1="701.6" y1="251" x2="701.6" y2="256" stroke="#2a2a2a" stroke-width="1.6"/>
<text x="252.4" y="21.6" textLength="127.2" lengthAdjust="spacing" class="lb">Primäre Sehstrahlung</text>
<text x="189.8" y="35.9" textLength="77.8" lengthAdjust="spacing" class="lb">Hippocampus</text>
<text x="13.3" y="58.2" textLength="178.0" lengthAdjust="spacing" class="lb">Gyrus subangularis [Flechsig]</text>
<text x="61.2" y="93.9" textLength="86.2" lengthAdjust="spacing" class="lb">Cornu inferius</text>
<text x="49.7" y="106.6" textLength="106.4" lengthAdjust="spacing" class="lb">ventriculi lateralis</text>
<text x="60.7" y="124.5" textLength="61.2" lengthAdjust="spacing" class="lb">Sekundäre</text>
<text x="54.3" y="136.8" textLength="75.0" lengthAdjust="spacing" class="lb">Sehstrahlung</text>
<text x="38.3" y="195.5" textLength="35.2" lengthAdjust="spacing" class="lb">Lobus</text>
<text x="26.3" y="208.2" textLength="57.9" lengthAdjust="spacing" class="lb">occipitalis</text>
<text x="23" y="259.3" textLength="59.1" lengthAdjust="spacing" class="lb">Sehsphäre</text>
<text x="46.7" y="310.4" textLength="91.1" lengthAdjust="spacing" class="lb">Gyrus lingualis</text>
<text x="156.6" y="317.6" textLength="109.5" lengthAdjust="spacing" class="lb">Gyrus hippocampi</text>
<text x="246.2" y="336.5" textLength="49.1" lengthAdjust="spacing" class="lb">Pulvinar</text>
<text x="167.2" y="354" textLength="166.2" lengthAdjust="spacing" class="lb">Corpus geniculatum laterale</text>
<text x="289.3" y="376.9" textLength="86.2" lengthAdjust="spacing" class="lb">Centre médian</text>
<text x="245.2" y="388.9" textLength="150.2" lengthAdjust="spacing" class="lb">Nucleus medialis thalami</text>
<text x="522.4" y="16.6" textLength="176.1" lengthAdjust="spacing" class="lb">Knie der ventralen Abteilung</text>
<text x="530.6" y="30.1" textLength="160.7" lengthAdjust="spacing" class="lb">der primären Sehstrahlung</text>
<text x="565.8" y="46.7" textLength="124.2" lengthAdjust="spacing" class="lb">Commissura anterior</text>
<text x="602.8" y="91.3" textLength="107.7" lengthAdjust="spacing" class="lb">Türcksche Bündel</text>
<text x="607.5" y="144.6" textLength="139.8" lengthAdjust="spacing" class="lb">Stria olfactoria lateralis</text>
<text x="724.2" y="252" textLength="31.6" lengthAdjust="spacing" class="lb">Polus</text>
<text x="716.2" y="264.5" textLength="46.8" lengthAdjust="spacing" class="lb">frontalis</text>
<text x="602.2" y="315.4" textLength="102.9" lengthAdjust="spacing" class="lb">Nucleus caudatus</text>
<text x="722.6" y="315.4" textLength="50.2" lengthAdjust="spacing" class="lb">putamen</text>
<text x="541.1" y="329.5" textLength="170.9" lengthAdjust="spacing" class="lb">Substantia perforata anterior</text>
<text x="502.6" y="355.6" textLength="92.6" lengthAdjust="spacing" class="lb">Globus pallidus</text>
<text x="475.8" y="368.9" textLength="111.7" lengthAdjust="spacing" class="lb">Arnoldsche Bündel</text>
<text x="460.5" y="381.1" textLength="90.5" lengthAdjust="spacing" class="lb">Pyramidenbahn</text>
<text x="446.7" y="393.7" textLength="190.1" lengthAdjust="spacing" class="lb">Nucleus ventrolateralis anterior</text>
<text x="413.3" y="406.8" textLength="199.7" lengthAdjust="spacing" class="lb">Nucleus ventrolateralis (posterior)</text>
<text x="645" y="401" textLength="43.0" lengthAdjust="spacing" class="lb">thalami</text>
<text x="713.8" y="317.5" font-size="17" fill="#333" text-anchor="middle">+</text>
<text x="638.5" y="405" font-size="27" font-weight="bold" text-anchor="middle" fill="#222" transform="translate(638.5 0) scale(0.6 1) translate(-638.5 0)">}</text>
<text x="535.8" y="426.6" textLength="226.4" lengthAdjust="spacing" font-style="italic" font-size="14.1" fill="#222">W.Spalteholz, Atlas. 13. Fig. 895 (1933)</text>
<g><text transform="translate(684.5,300.5) rotate(-50.6)" font-style="italic" font-weight="bold" font-size="9.5" fill="#333">A</text>
<text transform="translate(688.7,295.0) rotate(-54.9)" font-style="italic" font-weight="bold" font-size="9.5" fill="#333">.</text>
<text transform="translate(691.9,290.1) rotate(-58.5)" font-style="italic" font-weight="bold" font-size="9.5" fill="#333">F</text>
<text transform="translate(695.3,284.1) rotate(-62.6)" font-style="italic" font-weight="bold" font-size="9.5" fill="#333">i</text>
<text transform="translate(696.7,281.2) rotate(-64.5)" font-style="italic" font-weight="bold" font-size="9.5" fill="#333">e</text>
<text transform="translate(698.7,276.8) rotate(-67.3)" font-style="italic" font-weight="bold" font-size="9.5" fill="#333">b</text>
<text transform="translate(700.6,271.9) rotate(-70.2)" font-style="italic" font-weight="bold" font-size="9.5" fill="#333">i</text>
<text transform="translate(701.7,268.8) rotate(-72.0)" font-style="italic" font-weight="bold" font-size="9.5" fill="#333">g</text>
<text transform="translate(703.2,263.7) rotate(-74.7)" font-style="italic" font-weight="bold" font-size="9.5" fill="#333">e</text>
<text transform="translate(704.4,259.1) rotate(-77.1)" font-style="italic" font-weight="bold" font-size="9.5" fill="#333">r</text></g>
</svg>
</body></html>
